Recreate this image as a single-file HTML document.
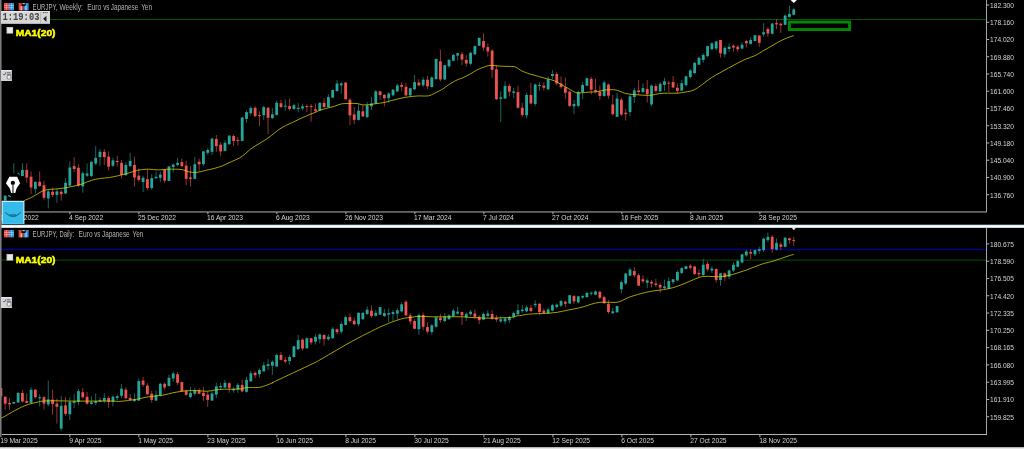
<!DOCTYPE html>
<html><head><meta charset="utf-8"><title>EURJPY</title>
<style>
html,body{margin:0;padding:0;background:#000;overflow:hidden}
svg{display:block;will-change:transform}
text{white-space:pre}
</style></head>
<body>
<svg width="1024" height="449" viewBox="0 0 1024 449">
<rect x="0" y="0" width="1024" height="449" fill="#000"/>
<rect x="50" y="19" width="936" height="1" fill="#005a00"/>
<rect x="789.35" y="22.05" width="60.2" height="7.5" fill="none" stroke="#018801" stroke-width="2.9"/>
<rect x="3.80" y="195.61" width="2.8" height="4.99" fill="#26a69a"/>
<line x1="13.82" y1="163.25" x2="13.82" y2="173.51" stroke="#26a69a" stroke-width="0.62"/>
<line x1="22.44" y1="163.25" x2="22.44" y2="176.08" stroke="#26a69a" stroke-width="0.62"/>
<rect x="21.04" y="169.95" width="2.8" height="6.13" fill="#26a69a"/>
<line x1="26.75" y1="163.25" x2="26.75" y2="182.78" stroke="#ef5350" stroke-width="0.62"/>
<rect x="25.35" y="169.95" width="2.8" height="7.56" fill="#ef5350"/>
<line x1="31.06" y1="171.38" x2="31.06" y2="194.19" stroke="#ef5350" stroke-width="0.62"/>
<rect x="29.66" y="176.65" width="2.8" height="10.84" fill="#ef5350"/>
<line x1="35.37" y1="181.78" x2="35.37" y2="193.47" stroke="#26a69a" stroke-width="0.62"/>
<rect x="33.97" y="181.78" width="2.8" height="7.13" fill="#26a69a"/>
<line x1="39.67" y1="171.38" x2="39.67" y2="186.63" stroke="#ef5350" stroke-width="0.62"/>
<rect x="38.27" y="181.78" width="2.8" height="4.28" fill="#ef5350"/>
<line x1="43.98" y1="180.64" x2="43.98" y2="199.89" stroke="#ef5350" stroke-width="0.62"/>
<rect x="42.58" y="185.21" width="2.8" height="12.55" fill="#ef5350"/>
<line x1="48.29" y1="189.20" x2="48.29" y2="208.44" stroke="#26a69a" stroke-width="0.62"/>
<rect x="46.89" y="191.34" width="2.8" height="7.13" fill="#26a69a"/>
<line x1="52.60" y1="187.49" x2="52.60" y2="197.04" stroke="#ef5350" stroke-width="0.62"/>
<rect x="51.20" y="191.76" width="2.8" height="3.14" fill="#ef5350"/>
<line x1="56.91" y1="189.20" x2="56.91" y2="202.74" stroke="#26a69a" stroke-width="0.62"/>
<rect x="55.51" y="191.34" width="2.8" height="3.56" fill="#26a69a"/>
<line x1="61.22" y1="189.91" x2="61.22" y2="200.60" stroke="#ef5350" stroke-width="0.62"/>
<rect x="59.82" y="191.76" width="2.8" height="2.42" fill="#ef5350"/>
<line x1="65.53" y1="178.08" x2="65.53" y2="194.19" stroke="#26a69a" stroke-width="0.62"/>
<rect x="64.13" y="182.78" width="2.8" height="10.69" fill="#26a69a"/>
<line x1="69.84" y1="161.40" x2="69.84" y2="186.35" stroke="#26a69a" stroke-width="0.62"/>
<rect x="68.44" y="167.53" width="2.8" height="18.11" fill="#26a69a"/>
<line x1="74.15" y1="157.12" x2="74.15" y2="172.09" stroke="#ef5350" stroke-width="0.62"/>
<rect x="72.75" y="166.10" width="2.8" height="2.85" fill="#ef5350"/>
<line x1="78.46" y1="164.25" x2="78.46" y2="187.06" stroke="#ef5350" stroke-width="0.62"/>
<rect x="77.06" y="167.81" width="2.8" height="17.82" fill="#ef5350"/>
<line x1="82.76" y1="171.38" x2="82.76" y2="192.76" stroke="#26a69a" stroke-width="0.62"/>
<rect x="81.36" y="173.23" width="2.8" height="13.12" fill="#26a69a"/>
<line x1="87.07" y1="163.53" x2="87.07" y2="177.08" stroke="#26a69a" stroke-width="0.62"/>
<rect x="85.67" y="173.51" width="2.8" height="2.14" fill="#26a69a"/>
<line x1="91.38" y1="161.40" x2="91.38" y2="177.08" stroke="#26a69a" stroke-width="0.62"/>
<rect x="89.98" y="161.82" width="2.8" height="14.26" fill="#26a69a"/>
<line x1="95.69" y1="146.14" x2="95.69" y2="164.96" stroke="#26a69a" stroke-width="0.62"/>
<rect x="94.29" y="157.83" width="2.8" height="5.70" fill="#26a69a"/>
<line x1="100.00" y1="148.99" x2="100.00" y2="165.67" stroke="#26a69a" stroke-width="0.62"/>
<rect x="98.60" y="151.84" width="2.8" height="5.28" fill="#26a69a"/>
<line x1="104.31" y1="148.99" x2="104.31" y2="164.96" stroke="#ef5350" stroke-width="0.62"/>
<rect x="102.91" y="151.84" width="2.8" height="5.28" fill="#ef5350"/>
<line x1="108.62" y1="151.42" x2="108.62" y2="170.66" stroke="#ef5350" stroke-width="0.62"/>
<rect x="107.22" y="156.69" width="2.8" height="9.98" fill="#ef5350"/>
<line x1="112.93" y1="157.83" x2="112.93" y2="167.10" stroke="#26a69a" stroke-width="0.62"/>
<rect x="111.53" y="160.40" width="2.8" height="5.28" fill="#26a69a"/>
<line x1="117.24" y1="155.69" x2="117.24" y2="166.39" stroke="#ef5350" stroke-width="0.62"/>
<rect x="115.84" y="160.97" width="2.8" height="1.14" fill="#ef5350"/>
<line x1="121.55" y1="159.97" x2="121.55" y2="178.50" stroke="#ef5350" stroke-width="0.62"/>
<rect x="120.15" y="162.82" width="2.8" height="12.12" fill="#ef5350"/>
<line x1="125.86" y1="162.11" x2="125.86" y2="175.65" stroke="#26a69a" stroke-width="0.62"/>
<rect x="124.46" y="164.96" width="2.8" height="10.27" fill="#26a69a"/>
<line x1="130.16" y1="152.84" x2="130.16" y2="167.10" stroke="#26a69a" stroke-width="0.62"/>
<rect x="128.76" y="160.97" width="2.8" height="5.13" fill="#26a69a"/>
<line x1="134.47" y1="156.69" x2="134.47" y2="186.63" stroke="#ef5350" stroke-width="0.62"/>
<rect x="133.07" y="164.96" width="2.8" height="12.55" fill="#ef5350"/>
<line x1="138.78" y1="168.52" x2="138.78" y2="181.78" stroke="#ef5350" stroke-width="0.62"/>
<rect x="137.38" y="175.65" width="2.8" height="4.28" fill="#ef5350"/>
<line x1="143.09" y1="175.63" x2="143.09" y2="192.03" stroke="#26a69a" stroke-width="0.62"/>
<rect x="141.69" y="177.77" width="2.8" height="4.28" fill="#26a69a"/>
<line x1="147.40" y1="169.22" x2="147.40" y2="189.89" stroke="#ef5350" stroke-width="0.62"/>
<rect x="146.00" y="179.20" width="2.8" height="8.84" fill="#ef5350"/>
<line x1="151.71" y1="174.21" x2="151.71" y2="189.89" stroke="#26a69a" stroke-width="0.62"/>
<rect x="150.31" y="178.06" width="2.8" height="9.98" fill="#26a69a"/>
<line x1="156.02" y1="171.36" x2="156.02" y2="179.20" stroke="#26a69a" stroke-width="0.62"/>
<rect x="154.62" y="176.77" width="2.8" height="1.43" fill="#26a69a"/>
<line x1="160.33" y1="171.78" x2="160.33" y2="182.05" stroke="#26a69a" stroke-width="0.62"/>
<rect x="158.93" y="174.64" width="2.8" height="3.14" fill="#26a69a"/>
<line x1="164.64" y1="168.93" x2="164.64" y2="183.19" stroke="#ef5350" stroke-width="0.62"/>
<rect x="163.24" y="169.93" width="2.8" height="10.69" fill="#ef5350"/>
<line x1="168.94" y1="166.08" x2="168.94" y2="180.91" stroke="#26a69a" stroke-width="0.62"/>
<rect x="167.54" y="166.37" width="2.8" height="14.54" fill="#26a69a"/>
<line x1="173.25" y1="163.51" x2="173.25" y2="172.35" stroke="#26a69a" stroke-width="0.62"/>
<rect x="171.85" y="164.65" width="2.8" height="2.42" fill="#26a69a"/>
<line x1="177.56" y1="157.81" x2="177.56" y2="166.65" stroke="#26a69a" stroke-width="0.62"/>
<rect x="176.16" y="162.80" width="2.8" height="2.14" fill="#26a69a"/>
<line x1="181.87" y1="158.52" x2="181.87" y2="167.51" stroke="#ef5350" stroke-width="0.62"/>
<rect x="180.47" y="162.09" width="2.8" height="3.99" fill="#ef5350"/>
<line x1="186.18" y1="160.66" x2="186.18" y2="185.19" stroke="#ef5350" stroke-width="0.62"/>
<rect x="184.78" y="165.65" width="2.8" height="13.26" fill="#ef5350"/>
<line x1="190.49" y1="166.08" x2="190.49" y2="186.61" stroke="#ef5350" stroke-width="0.62"/>
<rect x="189.09" y="177.49" width="2.8" height="1.43" fill="#ef5350"/>
<line x1="194.80" y1="157.10" x2="194.80" y2="179.20" stroke="#26a69a" stroke-width="0.62"/>
<rect x="193.40" y="164.23" width="2.8" height="14.68" fill="#26a69a"/>
<line x1="199.11" y1="158.52" x2="199.11" y2="170.64" stroke="#ef5350" stroke-width="0.62"/>
<rect x="197.71" y="161.80" width="2.8" height="2.42" fill="#ef5350"/>
<line x1="203.42" y1="150.97" x2="203.42" y2="166.08" stroke="#26a69a" stroke-width="0.62"/>
<rect x="202.02" y="151.40" width="2.8" height="12.83" fill="#26a69a"/>
<line x1="207.73" y1="148.12" x2="207.73" y2="154.67" stroke="#26a69a" stroke-width="0.62"/>
<rect x="206.33" y="149.97" width="2.8" height="2.85" fill="#26a69a"/>
<line x1="212.03" y1="137.57" x2="212.03" y2="154.96" stroke="#26a69a" stroke-width="0.62"/>
<rect x="210.63" y="138.56" width="2.8" height="13.26" fill="#26a69a"/>
<line x1="216.34" y1="135.00" x2="216.34" y2="151.82" stroke="#ef5350" stroke-width="0.62"/>
<rect x="214.94" y="138.99" width="2.8" height="7.13" fill="#ef5350"/>
<line x1="220.65" y1="142.13" x2="220.65" y2="156.39" stroke="#ef5350" stroke-width="0.62"/>
<rect x="219.25" y="144.69" width="2.8" height="6.70" fill="#ef5350"/>
<line x1="224.96" y1="140.42" x2="224.96" y2="151.40" stroke="#26a69a" stroke-width="0.62"/>
<rect x="223.56" y="142.84" width="2.8" height="8.13" fill="#26a69a"/>
<line x1="229.27" y1="135.19" x2="229.27" y2="144.88" stroke="#26a69a" stroke-width="0.62"/>
<rect x="227.87" y="135.61" width="2.8" height="8.55" fill="#26a69a"/>
<line x1="233.58" y1="134.62" x2="233.58" y2="146.02" stroke="#ef5350" stroke-width="0.62"/>
<rect x="232.18" y="136.04" width="2.8" height="4.85" fill="#ef5350"/>
<line x1="237.89" y1="137.04" x2="237.89" y2="145.59" stroke="#ef5350" stroke-width="0.62"/>
<rect x="236.49" y="139.89" width="2.8" height="1.00" fill="#ef5350"/>
<line x1="242.20" y1="117.08" x2="242.20" y2="141.32" stroke="#26a69a" stroke-width="0.62"/>
<rect x="240.80" y="117.51" width="2.8" height="23.38" fill="#26a69a"/>
<line x1="246.51" y1="110.38" x2="246.51" y2="122.78" stroke="#26a69a" stroke-width="0.62"/>
<rect x="245.11" y="112.09" width="2.8" height="6.84" fill="#26a69a"/>
<line x1="250.82" y1="106.10" x2="250.82" y2="115.65" stroke="#26a69a" stroke-width="0.62"/>
<rect x="249.42" y="108.10" width="2.8" height="5.13" fill="#26a69a"/>
<line x1="255.12" y1="106.10" x2="255.12" y2="117.51" stroke="#ef5350" stroke-width="0.62"/>
<rect x="253.72" y="107.81" width="2.8" height="8.27" fill="#ef5350"/>
<line x1="259.43" y1="111.38" x2="259.43" y2="126.35" stroke="#ef5350" stroke-width="0.62"/>
<rect x="258.03" y="114.94" width="2.8" height="0.90" fill="#ef5350"/>
<line x1="263.74" y1="105.67" x2="263.74" y2="119.93" stroke="#26a69a" stroke-width="0.62"/>
<rect x="262.34" y="107.10" width="2.8" height="8.13" fill="#26a69a"/>
<line x1="268.05" y1="106.67" x2="268.05" y2="134.19" stroke="#ef5350" stroke-width="0.62"/>
<rect x="266.65" y="107.81" width="2.8" height="9.98" fill="#ef5350"/>
<line x1="272.36" y1="108.10" x2="272.36" y2="118.93" stroke="#26a69a" stroke-width="0.62"/>
<rect x="270.96" y="114.23" width="2.8" height="3.85" fill="#26a69a"/>
<line x1="276.67" y1="100.68" x2="276.67" y2="115.65" stroke="#26a69a" stroke-width="0.62"/>
<rect x="275.27" y="102.82" width="2.8" height="12.12" fill="#26a69a"/>
<line x1="280.98" y1="99.97" x2="280.98" y2="107.81" stroke="#ef5350" stroke-width="0.62"/>
<rect x="279.58" y="103.25" width="2.8" height="3.85" fill="#ef5350"/>
<line x1="285.29" y1="99.54" x2="285.29" y2="110.95" stroke="#26a69a" stroke-width="0.62"/>
<rect x="283.89" y="105.67" width="2.8" height="1.00" fill="#26a69a"/>
<line x1="289.60" y1="98.54" x2="289.60" y2="110.66" stroke="#ef5350" stroke-width="0.62"/>
<rect x="288.20" y="106.10" width="2.8" height="2.85" fill="#ef5350"/>
<line x1="293.91" y1="103.82" x2="293.91" y2="109.95" stroke="#26a69a" stroke-width="0.62"/>
<rect x="292.51" y="105.25" width="2.8" height="3.71" fill="#26a69a"/>
<line x1="298.21" y1="103.25" x2="298.21" y2="112.37" stroke="#26a69a" stroke-width="0.62"/>
<rect x="296.81" y="107.81" width="2.8" height="1.14" fill="#26a69a"/>
<line x1="302.52" y1="103.82" x2="302.52" y2="110.38" stroke="#26a69a" stroke-width="0.62"/>
<rect x="301.12" y="106.39" width="2.8" height="2.14" fill="#26a69a"/>
<line x1="306.83" y1="104.25" x2="306.83" y2="112.09" stroke="#ef5350" stroke-width="0.62"/>
<rect x="305.43" y="106.10" width="2.8" height="1.00" fill="#ef5350"/>
<line x1="311.14" y1="103.82" x2="311.14" y2="121.78" stroke="#ef5350" stroke-width="0.62"/>
<rect x="309.74" y="106.10" width="2.8" height="1.00" fill="#ef5350"/>
<line x1="315.45" y1="103.25" x2="315.45" y2="112.80" stroke="#ef5350" stroke-width="0.62"/>
<rect x="314.05" y="109.24" width="2.8" height="1.71" fill="#ef5350"/>
<line x1="319.76" y1="102.39" x2="319.76" y2="110.95" stroke="#26a69a" stroke-width="0.62"/>
<rect x="318.36" y="102.82" width="2.8" height="7.84" fill="#26a69a"/>
<line x1="324.07" y1="98.12" x2="324.07" y2="107.53" stroke="#ef5350" stroke-width="0.62"/>
<rect x="322.67" y="102.82" width="2.8" height="4.28" fill="#ef5350"/>
<line x1="328.38" y1="94.27" x2="328.38" y2="107.53" stroke="#26a69a" stroke-width="0.62"/>
<rect x="326.98" y="97.12" width="2.8" height="9.98" fill="#26a69a"/>
<line x1="332.69" y1="89.28" x2="332.69" y2="98.12" stroke="#26a69a" stroke-width="0.62"/>
<rect x="331.29" y="89.99" width="2.8" height="7.56" fill="#26a69a"/>
<line x1="337.00" y1="79.96" x2="337.00" y2="91.65" stroke="#26a69a" stroke-width="0.62"/>
<rect x="335.60" y="83.52" width="2.8" height="7.56" fill="#26a69a"/>
<line x1="341.31" y1="82.10" x2="341.31" y2="93.50" stroke="#26a69a" stroke-width="0.62"/>
<rect x="339.91" y="83.52" width="2.8" height="1.85" fill="#26a69a"/>
<line x1="345.61" y1="82.10" x2="345.61" y2="99.92" stroke="#ef5350" stroke-width="0.62"/>
<rect x="344.21" y="82.53" width="2.8" height="16.68" fill="#ef5350"/>
<line x1="349.92" y1="98.21" x2="349.92" y2="124.87" stroke="#ef5350" stroke-width="0.62"/>
<rect x="348.52" y="99.64" width="2.8" height="15.68" fill="#ef5350"/>
<line x1="354.23" y1="107.05" x2="354.23" y2="124.16" stroke="#ef5350" stroke-width="0.62"/>
<rect x="352.83" y="114.46" width="2.8" height="5.42" fill="#ef5350"/>
<line x1="358.54" y1="104.20" x2="358.54" y2="120.59" stroke="#26a69a" stroke-width="0.62"/>
<rect x="357.14" y="110.61" width="2.8" height="9.27" fill="#26a69a"/>
<line x1="362.85" y1="105.34" x2="362.85" y2="117.03" stroke="#ef5350" stroke-width="0.62"/>
<rect x="361.45" y="111.33" width="2.8" height="4.99" fill="#ef5350"/>
<line x1="367.16" y1="102.06" x2="367.16" y2="118.45" stroke="#26a69a" stroke-width="0.62"/>
<rect x="365.76" y="105.34" width="2.8" height="11.69" fill="#26a69a"/>
<line x1="371.47" y1="96.78" x2="371.47" y2="109.90" stroke="#26a69a" stroke-width="0.62"/>
<rect x="370.07" y="103.48" width="2.8" height="2.85" fill="#26a69a"/>
<line x1="375.78" y1="89.94" x2="375.78" y2="104.20" stroke="#26a69a" stroke-width="0.62"/>
<rect x="374.38" y="91.37" width="2.8" height="12.12" fill="#26a69a"/>
<line x1="380.09" y1="90.65" x2="380.09" y2="99.92" stroke="#ef5350" stroke-width="0.62"/>
<rect x="378.69" y="91.37" width="2.8" height="3.56" fill="#ef5350"/>
<line x1="384.39" y1="94.22" x2="384.39" y2="106.34" stroke="#ef5350" stroke-width="0.62"/>
<rect x="383.00" y="94.93" width="2.8" height="3.28" fill="#ef5350"/>
<line x1="388.70" y1="92.08" x2="388.70" y2="102.77" stroke="#26a69a" stroke-width="0.62"/>
<rect x="387.30" y="93.50" width="2.8" height="4.70" fill="#26a69a"/>
<line x1="393.01" y1="89.23" x2="393.01" y2="96.36" stroke="#26a69a" stroke-width="0.62"/>
<rect x="391.61" y="89.65" width="2.8" height="5.70" fill="#26a69a"/>
<line x1="397.32" y1="83.52" x2="397.32" y2="92.08" stroke="#26a69a" stroke-width="0.62"/>
<rect x="395.92" y="85.38" width="2.8" height="5.99" fill="#26a69a"/>
<line x1="401.63" y1="82.10" x2="401.63" y2="91.37" stroke="#ef5350" stroke-width="0.62"/>
<rect x="400.23" y="84.95" width="2.8" height="1.85" fill="#ef5350"/>
<line x1="405.94" y1="82.81" x2="405.94" y2="96.36" stroke="#ef5350" stroke-width="0.62"/>
<rect x="404.54" y="86.80" width="2.8" height="8.55" fill="#ef5350"/>
<line x1="410.25" y1="87.80" x2="410.25" y2="96.78" stroke="#26a69a" stroke-width="0.62"/>
<rect x="408.85" y="88.23" width="2.8" height="7.13" fill="#26a69a"/>
<line x1="414.56" y1="74.97" x2="414.56" y2="90.23" stroke="#26a69a" stroke-width="0.62"/>
<rect x="413.16" y="82.10" width="2.8" height="7.13" fill="#26a69a"/>
<line x1="418.87" y1="79.25" x2="418.87" y2="86.38" stroke="#ef5350" stroke-width="0.62"/>
<rect x="417.47" y="82.53" width="2.8" height="2.85" fill="#ef5350"/>
<line x1="423.18" y1="77.11" x2="423.18" y2="87.09" stroke="#26a69a" stroke-width="0.62"/>
<rect x="421.78" y="79.67" width="2.8" height="5.70" fill="#26a69a"/>
<line x1="427.49" y1="75.97" x2="427.49" y2="89.23" stroke="#ef5350" stroke-width="0.62"/>
<rect x="426.09" y="79.67" width="2.8" height="6.70" fill="#ef5350"/>
<line x1="431.79" y1="76.40" x2="431.79" y2="87.37" stroke="#26a69a" stroke-width="0.62"/>
<rect x="430.39" y="77.39" width="2.8" height="9.69" fill="#26a69a"/>
<line x1="436.10" y1="58.50" x2="436.10" y2="79.46" stroke="#26a69a" stroke-width="0.62"/>
<rect x="434.70" y="58.93" width="2.8" height="20.25" fill="#26a69a"/>
<line x1="440.41" y1="49.52" x2="440.41" y2="81.32" stroke="#ef5350" stroke-width="0.62"/>
<rect x="439.01" y="61.36" width="2.8" height="18.11" fill="#ef5350"/>
<line x1="444.72" y1="64.92" x2="444.72" y2="79.89" stroke="#26a69a" stroke-width="0.62"/>
<rect x="443.32" y="65.21" width="2.8" height="14.26" fill="#26a69a"/>
<line x1="449.03" y1="58.93" x2="449.03" y2="67.77" stroke="#26a69a" stroke-width="0.62"/>
<rect x="447.63" y="59.93" width="2.8" height="6.42" fill="#26a69a"/>
<line x1="453.34" y1="53.80" x2="453.34" y2="61.36" stroke="#26a69a" stroke-width="0.62"/>
<rect x="451.94" y="54.94" width="2.8" height="5.70" fill="#26a69a"/>
<line x1="457.65" y1="52.80" x2="457.65" y2="60.64" stroke="#26a69a" stroke-width="0.62"/>
<rect x="456.25" y="53.23" width="2.8" height="2.42" fill="#26a69a"/>
<line x1="461.96" y1="52.09" x2="461.96" y2="64.92" stroke="#ef5350" stroke-width="0.62"/>
<rect x="460.56" y="54.23" width="2.8" height="5.28" fill="#ef5350"/>
<line x1="466.27" y1="55.23" x2="466.27" y2="66.63" stroke="#ef5350" stroke-width="0.62"/>
<rect x="464.87" y="59.93" width="2.8" height="3.56" fill="#ef5350"/>
<line x1="470.57" y1="51.80" x2="470.57" y2="65.21" stroke="#26a69a" stroke-width="0.62"/>
<rect x="469.18" y="52.80" width="2.8" height="10.98" fill="#26a69a"/>
<line x1="474.88" y1="45.67" x2="474.88" y2="55.23" stroke="#26a69a" stroke-width="0.62"/>
<rect x="473.48" y="46.10" width="2.8" height="8.13" fill="#26a69a"/>
<line x1="479.19" y1="37.55" x2="479.19" y2="46.10" stroke="#26a69a" stroke-width="0.62"/>
<rect x="477.79" y="37.83" width="2.8" height="7.84" fill="#26a69a"/>
<line x1="483.50" y1="33.27" x2="483.50" y2="50.95" stroke="#ef5350" stroke-width="0.62"/>
<rect x="482.10" y="40.97" width="2.8" height="6.56" fill="#ef5350"/>
<line x1="487.81" y1="43.53" x2="487.81" y2="56.65" stroke="#ef5350" stroke-width="0.62"/>
<rect x="486.41" y="47.10" width="2.8" height="4.28" fill="#ef5350"/>
<line x1="492.12" y1="48.95" x2="492.12" y2="78.04" stroke="#ef5350" stroke-width="0.62"/>
<rect x="490.72" y="50.66" width="2.8" height="19.25" fill="#ef5350"/>
<line x1="496.43" y1="65.42" x2="496.43" y2="99.92" stroke="#ef5350" stroke-width="0.62"/>
<rect x="495.03" y="69.27" width="2.8" height="29.94" fill="#ef5350"/>
<line x1="500.74" y1="91.37" x2="500.74" y2="122.02" stroke="#26a69a" stroke-width="0.62"/>
<rect x="499.34" y="97.35" width="2.8" height="1.43" fill="#26a69a"/>
<line x1="505.05" y1="81.39" x2="505.05" y2="99.21" stroke="#26a69a" stroke-width="0.62"/>
<rect x="503.65" y="85.95" width="2.8" height="12.55" fill="#26a69a"/>
<line x1="509.36" y1="83.95" x2="509.36" y2="96.36" stroke="#ef5350" stroke-width="0.62"/>
<rect x="507.96" y="85.95" width="2.8" height="5.70" fill="#ef5350"/>
<line x1="513.66" y1="87.80" x2="513.66" y2="98.21" stroke="#26a69a" stroke-width="0.62"/>
<rect x="512.26" y="91.37" width="2.8" height="1.43" fill="#26a69a"/>
<line x1="517.97" y1="85.66" x2="517.97" y2="108.47" stroke="#ef5350" stroke-width="0.62"/>
<rect x="516.57" y="92.08" width="2.8" height="15.68" fill="#ef5350"/>
<line x1="522.28" y1="102.77" x2="522.28" y2="117.03" stroke="#ef5350" stroke-width="0.62"/>
<rect x="520.88" y="107.76" width="2.8" height="7.13" fill="#ef5350"/>
<line x1="526.59" y1="92.79" x2="526.59" y2="118.45" stroke="#26a69a" stroke-width="0.62"/>
<rect x="525.19" y="94.93" width="2.8" height="20.39" fill="#26a69a"/>
<line x1="530.90" y1="82.81" x2="530.90" y2="104.20" stroke="#ef5350" stroke-width="0.62"/>
<rect x="529.50" y="94.93" width="2.8" height="8.55" fill="#ef5350"/>
<line x1="535.21" y1="83.52" x2="535.21" y2="105.91" stroke="#26a69a" stroke-width="0.62"/>
<rect x="533.81" y="84.52" width="2.8" height="19.39" fill="#26a69a"/>
<line x1="539.52" y1="82.10" x2="539.52" y2="90.65" stroke="#26a69a" stroke-width="0.62"/>
<rect x="538.12" y="84.95" width="2.8" height="1.00" fill="#26a69a"/>
<line x1="543.83" y1="82.10" x2="543.83" y2="90.65" stroke="#ef5350" stroke-width="0.62"/>
<rect x="542.43" y="85.66" width="2.8" height="2.14" fill="#ef5350"/>
<line x1="548.14" y1="76.40" x2="548.14" y2="90.23" stroke="#26a69a" stroke-width="0.62"/>
<rect x="546.74" y="79.25" width="2.8" height="9.98" fill="#26a69a"/>
<line x1="552.45" y1="69.98" x2="552.45" y2="79.25" stroke="#26a69a" stroke-width="0.62"/>
<rect x="551.05" y="73.97" width="2.8" height="2.00" fill="#26a69a"/>
<line x1="556.75" y1="72.12" x2="556.75" y2="85.38" stroke="#ef5350" stroke-width="0.62"/>
<rect x="555.36" y="73.97" width="2.8" height="9.55" fill="#ef5350"/>
<line x1="561.06" y1="76.40" x2="561.06" y2="88.51" stroke="#ef5350" stroke-width="0.62"/>
<rect x="559.66" y="83.52" width="2.8" height="3.56" fill="#ef5350"/>
<line x1="565.37" y1="77.39" x2="565.37" y2="98.78" stroke="#ef5350" stroke-width="0.62"/>
<rect x="563.97" y="87.37" width="2.8" height="5.42" fill="#ef5350"/>
<line x1="569.68" y1="90.65" x2="569.68" y2="107.05" stroke="#ef5350" stroke-width="0.62"/>
<rect x="568.28" y="91.65" width="2.8" height="14.26" fill="#ef5350"/>
<line x1="573.99" y1="99.92" x2="573.99" y2="114.18" stroke="#26a69a" stroke-width="0.62"/>
<rect x="572.59" y="103.91" width="2.8" height="2.42" fill="#26a69a"/>
<line x1="578.30" y1="90.65" x2="578.30" y2="107.33" stroke="#26a69a" stroke-width="0.62"/>
<rect x="576.90" y="92.08" width="2.8" height="13.83" fill="#26a69a"/>
<line x1="582.61" y1="82.10" x2="582.61" y2="99.21" stroke="#26a69a" stroke-width="0.62"/>
<rect x="581.21" y="84.95" width="2.8" height="7.13" fill="#26a69a"/>
<line x1="586.92" y1="77.39" x2="586.92" y2="85.95" stroke="#26a69a" stroke-width="0.62"/>
<rect x="585.52" y="78.25" width="2.8" height="7.41" fill="#26a69a"/>
<line x1="591.23" y1="76.82" x2="591.23" y2="94.50" stroke="#ef5350" stroke-width="0.62"/>
<rect x="589.83" y="78.82" width="2.8" height="10.84" fill="#ef5350"/>
<line x1="595.54" y1="78.53" x2="595.54" y2="93.50" stroke="#ef5350" stroke-width="0.62"/>
<rect x="594.14" y="89.94" width="2.8" height="1.71" fill="#ef5350"/>
<line x1="599.85" y1="85.66" x2="599.85" y2="99.92" stroke="#ef5350" stroke-width="0.62"/>
<rect x="598.45" y="91.65" width="2.8" height="4.28" fill="#ef5350"/>
<line x1="604.15" y1="80.67" x2="604.15" y2="96.78" stroke="#26a69a" stroke-width="0.62"/>
<rect x="602.75" y="82.53" width="2.8" height="13.40" fill="#26a69a"/>
<line x1="608.46" y1="83.52" x2="608.46" y2="98.78" stroke="#ef5350" stroke-width="0.62"/>
<rect x="607.06" y="84.52" width="2.8" height="11.12" fill="#ef5350"/>
<line x1="612.77" y1="94.93" x2="612.77" y2="115.60" stroke="#ef5350" stroke-width="0.62"/>
<rect x="611.37" y="104.48" width="2.8" height="9.69" fill="#ef5350"/>
<line x1="617.08" y1="93.08" x2="617.08" y2="117.03" stroke="#26a69a" stroke-width="0.62"/>
<rect x="615.68" y="98.49" width="2.8" height="18.25" fill="#26a69a"/>
<line x1="621.39" y1="98.21" x2="621.39" y2="115.89" stroke="#ef5350" stroke-width="0.62"/>
<rect x="619.99" y="99.64" width="2.8" height="14.83" fill="#ef5350"/>
<line x1="625.70" y1="108.76" x2="625.70" y2="120.59" stroke="#ef5350" stroke-width="0.62"/>
<rect x="624.30" y="112.75" width="2.8" height="1.43" fill="#ef5350"/>
<line x1="630.01" y1="94.22" x2="630.01" y2="116.32" stroke="#26a69a" stroke-width="0.62"/>
<rect x="628.61" y="96.36" width="2.8" height="15.68" fill="#26a69a"/>
<line x1="634.32" y1="87.75" x2="634.32" y2="103.15" stroke="#26a69a" stroke-width="0.62"/>
<rect x="632.92" y="90.32" width="2.8" height="6.70" fill="#26a69a"/>
<line x1="638.63" y1="79.91" x2="638.63" y2="94.88" stroke="#ef5350" stroke-width="0.62"/>
<rect x="637.23" y="90.32" width="2.8" height="1.71" fill="#ef5350"/>
<line x1="642.93" y1="83.47" x2="642.93" y2="93.17" stroke="#26a69a" stroke-width="0.62"/>
<rect x="641.53" y="88.04" width="2.8" height="3.99" fill="#26a69a"/>
<line x1="647.24" y1="79.91" x2="647.24" y2="102.44" stroke="#ef5350" stroke-width="0.62"/>
<rect x="645.84" y="88.89" width="2.8" height="5.28" fill="#ef5350"/>
<line x1="651.55" y1="84.62" x2="651.55" y2="106.29" stroke="#26a69a" stroke-width="0.62"/>
<rect x="650.15" y="85.61" width="2.8" height="18.82" fill="#26a69a"/>
<line x1="655.86" y1="83.47" x2="655.86" y2="92.74" stroke="#ef5350" stroke-width="0.62"/>
<rect x="654.46" y="86.04" width="2.8" height="4.85" fill="#ef5350"/>
<line x1="660.17" y1="82.05" x2="660.17" y2="92.31" stroke="#26a69a" stroke-width="0.62"/>
<rect x="658.77" y="83.76" width="2.8" height="7.56" fill="#26a69a"/>
<line x1="664.48" y1="77.77" x2="664.48" y2="90.89" stroke="#26a69a" stroke-width="0.62"/>
<rect x="663.08" y="81.34" width="2.8" height="3.56" fill="#26a69a"/>
<line x1="668.79" y1="80.91" x2="668.79" y2="92.03" stroke="#ef5350" stroke-width="0.62"/>
<rect x="667.39" y="82.76" width="2.8" height="0.90" fill="#ef5350"/>
<line x1="673.10" y1="76.06" x2="673.10" y2="88.04" stroke="#ef5350" stroke-width="0.62"/>
<rect x="671.70" y="82.05" width="2.8" height="5.42" fill="#ef5350"/>
<line x1="677.41" y1="83.47" x2="677.41" y2="93.45" stroke="#ef5350" stroke-width="0.62"/>
<rect x="676.01" y="87.75" width="2.8" height="3.14" fill="#ef5350"/>
<line x1="681.72" y1="79.91" x2="681.72" y2="90.89" stroke="#26a69a" stroke-width="0.62"/>
<rect x="680.32" y="83.19" width="2.8" height="7.41" fill="#26a69a"/>
<line x1="686.02" y1="75.63" x2="686.02" y2="86.33" stroke="#26a69a" stroke-width="0.62"/>
<rect x="684.62" y="76.35" width="2.8" height="8.84" fill="#26a69a"/>
<line x1="690.33" y1="69.22" x2="690.33" y2="78.48" stroke="#26a69a" stroke-width="0.62"/>
<rect x="688.93" y="70.36" width="2.8" height="6.70" fill="#26a69a"/>
<line x1="694.64" y1="62.37" x2="694.64" y2="73.78" stroke="#26a69a" stroke-width="0.62"/>
<rect x="693.24" y="62.80" width="2.8" height="10.41" fill="#26a69a"/>
<line x1="698.95" y1="56.39" x2="698.95" y2="65.23" stroke="#26a69a" stroke-width="0.62"/>
<rect x="697.55" y="57.81" width="2.8" height="6.84" fill="#26a69a"/>
<line x1="703.26" y1="53.25" x2="703.26" y2="62.80" stroke="#26a69a" stroke-width="0.62"/>
<rect x="701.86" y="54.96" width="2.8" height="4.99" fill="#26a69a"/>
<line x1="707.57" y1="45.69" x2="707.57" y2="57.10" stroke="#26a69a" stroke-width="0.62"/>
<rect x="706.17" y="46.12" width="2.8" height="9.98" fill="#26a69a"/>
<line x1="711.88" y1="42.41" x2="711.88" y2="49.97" stroke="#26a69a" stroke-width="0.62"/>
<rect x="710.48" y="43.27" width="2.8" height="5.99" fill="#26a69a"/>
<line x1="716.19" y1="40.70" x2="716.19" y2="50.68" stroke="#26a69a" stroke-width="0.62"/>
<rect x="714.79" y="41.42" width="2.8" height="7.13" fill="#26a69a"/>
<line x1="720.50" y1="39.99" x2="720.50" y2="57.81" stroke="#ef5350" stroke-width="0.62"/>
<rect x="719.10" y="39.99" width="2.8" height="13.26" fill="#ef5350"/>
<line x1="724.81" y1="46.12" x2="724.81" y2="57.10" stroke="#26a69a" stroke-width="0.62"/>
<rect x="723.41" y="47.83" width="2.8" height="6.42" fill="#26a69a"/>
<line x1="729.12" y1="43.55" x2="729.12" y2="51.82" stroke="#26a69a" stroke-width="0.62"/>
<rect x="727.72" y="46.69" width="2.8" height="2.28" fill="#26a69a"/>
<line x1="733.42" y1="44.27" x2="733.42" y2="51.82" stroke="#ef5350" stroke-width="0.62"/>
<rect x="732.02" y="45.69" width="2.8" height="1.85" fill="#ef5350"/>
<line x1="737.73" y1="44.98" x2="737.73" y2="51.82" stroke="#ef5350" stroke-width="0.62"/>
<rect x="736.33" y="46.69" width="2.8" height="2.57" fill="#ef5350"/>
<line x1="742.04" y1="42.13" x2="742.04" y2="49.26" stroke="#26a69a" stroke-width="0.62"/>
<rect x="740.64" y="44.69" width="2.8" height="3.85" fill="#26a69a"/>
<line x1="746.35" y1="39.99" x2="746.35" y2="47.55" stroke="#ef5350" stroke-width="0.62"/>
<rect x="744.95" y="40.99" width="2.8" height="2.28" fill="#ef5350"/>
<line x1="750.66" y1="37.14" x2="750.66" y2="44.69" stroke="#26a69a" stroke-width="0.62"/>
<rect x="749.26" y="39.99" width="2.8" height="3.85" fill="#26a69a"/>
<line x1="754.97" y1="35.00" x2="754.97" y2="41.50" stroke="#26a69a" stroke-width="0.62"/>
<rect x="753.57" y="35.25" width="2.8" height="5.75" fill="#26a69a"/>
<line x1="759.28" y1="35.00" x2="759.28" y2="46.88" stroke="#ef5350" stroke-width="0.62"/>
<rect x="757.88" y="35.62" width="2.8" height="7.12" fill="#ef5350"/>
<line x1="763.59" y1="23.12" x2="763.59" y2="36.88" stroke="#26a69a" stroke-width="0.62"/>
<rect x="762.19" y="32.25" width="2.8" height="2.12" fill="#26a69a"/>
<line x1="767.90" y1="26.88" x2="767.90" y2="36.88" stroke="#ef5350" stroke-width="0.62"/>
<rect x="766.50" y="29.00" width="2.8" height="4.50" fill="#ef5350"/>
<line x1="772.21" y1="23.12" x2="772.21" y2="34.38" stroke="#26a69a" stroke-width="0.62"/>
<rect x="770.81" y="23.50" width="2.8" height="10.25" fill="#26a69a"/>
<line x1="776.51" y1="19.00" x2="776.51" y2="29.00" stroke="#ef5350" stroke-width="0.62"/>
<rect x="775.11" y="23.12" width="2.8" height="1.25" fill="#ef5350"/>
<line x1="780.82" y1="22.50" x2="780.82" y2="32.75" stroke="#ef5350" stroke-width="0.62"/>
<rect x="779.42" y="23.75" width="2.8" height="1.50" fill="#ef5350"/>
<line x1="785.13" y1="14.38" x2="785.13" y2="25.25" stroke="#26a69a" stroke-width="0.62"/>
<rect x="783.73" y="15.62" width="2.8" height="9.12" fill="#26a69a"/>
<line x1="789.44" y1="5.62" x2="789.44" y2="17.50" stroke="#26a69a" stroke-width="0.62"/>
<rect x="788.04" y="14.00" width="2.8" height="2.88" fill="#26a69a"/>
<line x1="793.75" y1="7.75" x2="793.75" y2="15.00" stroke="#26a69a" stroke-width="0.62"/>
<rect x="792.35" y="9.38" width="2.8" height="5.38" fill="#26a69a"/>
<path d="M24.2,200.6 C25.3,200.1 28.5,198.8 30.7,197.8 C32.8,196.7 35.0,195.3 37.1,194.2 C39.1,193.0 40.9,191.7 42.8,190.9 C44.7,190.1 46.1,189.8 48.5,189.5 C50.9,189.1 54.2,189.2 57.0,188.9 C59.9,188.6 62.7,188.2 65.6,187.8 C68.4,187.3 71.3,186.7 74.1,186.1 C77.0,185.4 79.8,184.7 82.7,183.8 C85.5,182.8 88.4,181.2 91.2,180.4 C94.1,179.5 96.7,179.0 99.8,178.5 C102.9,178.0 106.7,178.0 109.8,177.5 C112.9,177.0 115.5,176.3 118.3,175.7 C121.2,175.0 124.0,174.3 126.9,173.5 C129.7,172.7 133.3,171.5 135.4,170.9 C137.6,170.4 137.8,170.2 140.0,169.9 C142.2,169.6 145.5,169.2 148.6,169.2 C151.6,169.2 155.2,169.9 158.5,169.9 C161.9,169.9 164.7,169.3 168.5,169.2 C172.3,169.1 178.0,169.1 181.3,169.5 C184.7,169.9 185.9,171.3 188.5,171.8 C191.1,172.3 194.2,172.6 197.0,172.4 C199.9,172.1 202.7,171.0 205.6,170.4 C208.4,169.7 211.3,169.3 214.1,168.5 C217.0,167.7 219.8,166.8 222.7,165.7 C225.5,164.5 228.4,163.1 231.2,161.8 C234.1,160.5 237.4,159.2 239.8,157.8 C242.2,156.4 243.7,155.0 245.5,153.5 C247.3,152.1 248.7,150.5 250.6,149.0 C252.5,147.6 254.8,146.3 257.0,144.9 C259.3,143.5 261.8,142.1 264.2,140.6 C266.5,139.1 268.9,137.4 271.3,135.6 C273.7,133.8 276.0,131.6 278.4,129.9 C280.8,128.2 283.2,126.9 285.5,125.6 C287.9,124.4 290.3,123.5 292.7,122.4 C295.0,121.2 297.4,120.0 299.8,118.9 C302.2,117.8 304.6,116.7 306.9,115.7 C309.3,114.6 311.9,113.7 314.1,112.8 C316.2,111.9 317.8,111.0 320.0,110.2 C322.2,109.4 324.8,108.8 327.1,108.2 C329.5,107.5 331.9,107.0 334.3,106.3 C336.6,105.6 339.0,104.4 341.4,103.9 C343.8,103.4 345.9,103.6 348.5,103.5 C351.1,103.4 354.7,103.2 357.1,103.5 C359.4,103.7 360.6,104.7 362.8,104.9 C364.9,105.1 367.5,104.7 369.9,104.5 C372.3,104.2 374.7,103.8 377.0,103.5 C379.4,103.2 381.8,103.0 384.2,102.5 C386.5,102.0 388.9,101.3 391.3,100.6 C393.7,100.0 396.0,99.3 398.4,98.8 C400.8,98.2 403.2,97.8 405.5,97.4 C407.9,96.9 410.3,96.6 412.7,96.4 C415.0,96.1 417.2,96.0 419.8,95.9 C422.4,95.9 426.0,96.3 428.4,95.9 C430.7,95.5 431.9,94.5 434.1,93.5 C436.2,92.5 439.7,90.7 441.2,89.9 C442.6,89.2 441.6,89.9 442.8,89.0 C444.0,88.2 446.4,86.3 448.5,84.9 C450.7,83.5 453.3,81.8 455.6,80.6 C458.0,79.4 460.4,78.8 462.8,77.8 C465.1,76.7 467.5,75.5 469.9,74.2 C472.3,72.9 474.7,71.1 477.0,69.9 C479.4,68.7 482.0,67.8 484.2,67.1 C486.3,66.3 487.6,65.6 490.0,65.4 C492.4,65.2 495.7,65.8 498.6,66.0 C501.4,66.2 504.4,66.3 507.1,66.4 C509.8,66.6 512.5,66.1 515.0,66.8 C517.4,67.6 519.6,69.9 522.1,71.1 C524.6,72.3 527.2,73.1 529.9,74.0 C532.7,74.9 535.6,75.6 538.5,76.4 C541.3,77.2 544.4,78.1 547.0,78.8 C549.6,79.5 551.8,79.7 554.2,80.7 C556.5,81.6 558.9,83.2 561.3,84.5 C563.7,85.8 566.0,87.2 568.4,88.5 C570.8,89.8 573.4,91.8 575.5,92.5 C577.7,93.2 578.9,92.9 581.2,92.8 C583.6,92.7 587.2,92.3 589.8,92.1 C592.4,91.9 594.6,92.0 596.9,91.7 C599.3,91.3 601.9,90.6 604.1,90.2 C606.2,89.9 607.9,89.7 609.8,89.7 C611.7,89.6 613.8,89.7 615.5,89.9 C617.2,90.2 618.3,90.7 620.0,91.3 C621.7,91.9 623.3,92.9 625.7,93.5 C628.1,94.0 631.4,94.3 634.3,94.6 C637.1,94.9 640.0,95.1 642.8,95.2 C645.7,95.3 648.5,95.5 651.4,95.2 C654.2,94.9 657.1,93.8 659.9,93.5 C662.8,93.1 665.6,93.2 668.5,93.2 C671.3,93.1 674.2,93.4 677.0,93.2 C679.9,93.0 682.7,92.6 685.6,92.0 C688.4,91.5 691.3,91.2 694.1,89.9 C697.0,88.6 699.8,86.2 702.7,84.2 C705.5,82.2 708.4,79.7 711.2,77.8 C714.1,75.9 716.9,74.4 719.8,72.8 C722.7,71.2 725.5,69.6 728.4,68.1 C731.2,66.5 734.1,65.0 736.9,63.5 C739.8,62.0 742.4,60.6 745.5,59.2 C748.5,57.9 752.2,57.0 755.0,55.6 C757.8,54.3 760.0,52.7 762.5,51.2 C765.0,49.8 767.5,48.3 770.0,46.9 C772.5,45.4 775.0,43.9 777.5,42.5 C780.0,41.1 782.9,39.7 785.0,38.8 C787.1,37.8 788.5,37.4 790.0,36.9 C791.5,36.4 793.1,35.8 793.8,35.6" fill="none" stroke="#e2d600" stroke-width="0.74" stroke-linejoin="round"/>
<rect x="986" y="0" width="1" height="212" fill="#a2a6aa"/>
<rect x="24" y="211.45" width="963" height="1" fill="#b4b4b4"/>
<rect x="987" y="4.50" width="2.2" height="1" fill="#b4b4b4"/>
<text x="990" y="7.85" font-family="'Liberation Sans', sans-serif" font-size="8" font-weight="normal" fill="#d6d6d6" textLength="24" lengthAdjust="spacingAndGlyphs" text-anchor="start" >182.300</text>
<rect x="987" y="21.75" width="2.2" height="1" fill="#b4b4b4"/>
<text x="990" y="25.10" font-family="'Liberation Sans', sans-serif" font-size="8" font-weight="normal" fill="#d6d6d6" textLength="24" lengthAdjust="spacingAndGlyphs" text-anchor="start" >178.160</text>
<rect x="987" y="38.99" width="2.2" height="1" fill="#b4b4b4"/>
<text x="990" y="42.34" font-family="'Liberation Sans', sans-serif" font-size="8" font-weight="normal" fill="#d6d6d6" textLength="24" lengthAdjust="spacingAndGlyphs" text-anchor="start" >174.020</text>
<rect x="987" y="56.23" width="2.2" height="1" fill="#b4b4b4"/>
<text x="990" y="59.59" font-family="'Liberation Sans', sans-serif" font-size="8" font-weight="normal" fill="#d6d6d6" textLength="24" lengthAdjust="spacingAndGlyphs" text-anchor="start" >169.880</text>
<rect x="987" y="73.48" width="2.2" height="1" fill="#b4b4b4"/>
<text x="990" y="76.83" font-family="'Liberation Sans', sans-serif" font-size="8" font-weight="normal" fill="#d6d6d6" textLength="24" lengthAdjust="spacingAndGlyphs" text-anchor="start" >165.740</text>
<rect x="987" y="90.73" width="2.2" height="1" fill="#b4b4b4"/>
<text x="990" y="94.08" font-family="'Liberation Sans', sans-serif" font-size="8" font-weight="normal" fill="#d6d6d6" textLength="24" lengthAdjust="spacingAndGlyphs" text-anchor="start" >161.600</text>
<rect x="987" y="107.97" width="2.2" height="1" fill="#b4b4b4"/>
<text x="990" y="111.32" font-family="'Liberation Sans', sans-serif" font-size="8" font-weight="normal" fill="#d6d6d6" textLength="24" lengthAdjust="spacingAndGlyphs" text-anchor="start" >157.460</text>
<rect x="987" y="125.22" width="2.2" height="1" fill="#b4b4b4"/>
<text x="990" y="128.56" font-family="'Liberation Sans', sans-serif" font-size="8" font-weight="normal" fill="#d6d6d6" textLength="24" lengthAdjust="spacingAndGlyphs" text-anchor="start" >153.320</text>
<rect x="987" y="142.46" width="2.2" height="1" fill="#b4b4b4"/>
<text x="990" y="145.81" font-family="'Liberation Sans', sans-serif" font-size="8" font-weight="normal" fill="#d6d6d6" textLength="24" lengthAdjust="spacingAndGlyphs" text-anchor="start" >149.180</text>
<rect x="987" y="159.71" width="2.2" height="1" fill="#b4b4b4"/>
<text x="990" y="163.06" font-family="'Liberation Sans', sans-serif" font-size="8" font-weight="normal" fill="#d6d6d6" textLength="24" lengthAdjust="spacingAndGlyphs" text-anchor="start" >145.040</text>
<rect x="987" y="176.95" width="2.2" height="1" fill="#b4b4b4"/>
<text x="990" y="180.30" font-family="'Liberation Sans', sans-serif" font-size="8" font-weight="normal" fill="#d6d6d6" textLength="24" lengthAdjust="spacingAndGlyphs" text-anchor="start" >140.900</text>
<rect x="987" y="194.20" width="2.2" height="1" fill="#b4b4b4"/>
<text x="990" y="197.55" font-family="'Liberation Sans', sans-serif" font-size="8" font-weight="normal" fill="#d6d6d6" textLength="24" lengthAdjust="spacingAndGlyphs" text-anchor="start" >136.760</text>
<text x="0.0" y="220.4" font-family="'Liberation Sans', sans-serif" font-size="8" font-weight="normal" fill="#d6d6d6" textLength="38.6" lengthAdjust="spacingAndGlyphs" text-anchor="start" >15 May 2022</text>
<rect x="69.40" y="212" width="1" height="2.2" fill="#b4b4b4"/>
<text x="69.0" y="220.4" font-family="'Liberation Sans', sans-serif" font-size="8" font-weight="normal" fill="#d6d6d6" textLength="34.2" lengthAdjust="spacingAndGlyphs" text-anchor="start" >4 Sep 2022</text>
<rect x="138.40" y="212" width="1" height="2.2" fill="#b4b4b4"/>
<text x="138.0" y="220.4" font-family="'Liberation Sans', sans-serif" font-size="8" font-weight="normal" fill="#d6d6d6" textLength="37.9" lengthAdjust="spacingAndGlyphs" text-anchor="start" >25 Dec 2022</text>
<rect x="207.40" y="212" width="1" height="2.2" fill="#b4b4b4"/>
<text x="207.0" y="220.4" font-family="'Liberation Sans', sans-serif" font-size="8" font-weight="normal" fill="#d6d6d6" textLength="36.0" lengthAdjust="spacingAndGlyphs" text-anchor="start" >16 Apr 2023</text>
<rect x="276.40" y="212" width="1" height="2.2" fill="#b4b4b4"/>
<text x="276.0" y="220.4" font-family="'Liberation Sans', sans-serif" font-size="8" font-weight="normal" fill="#d6d6d6" textLength="33.8" lengthAdjust="spacingAndGlyphs" text-anchor="start" >6 Aug 2023</text>
<rect x="345.40" y="212" width="1" height="2.2" fill="#b4b4b4"/>
<text x="345.0" y="220.4" font-family="'Liberation Sans', sans-serif" font-size="8" font-weight="normal" fill="#d6d6d6" textLength="37.9" lengthAdjust="spacingAndGlyphs" text-anchor="start" >26 Nov 2023</text>
<rect x="414.40" y="212" width="1" height="2.2" fill="#b4b4b4"/>
<text x="414.0" y="220.4" font-family="'Liberation Sans', sans-serif" font-size="8" font-weight="normal" fill="#d6d6d6" textLength="37.5" lengthAdjust="spacingAndGlyphs" text-anchor="start" >17 Mar 2024</text>
<rect x="483.40" y="212" width="1" height="2.2" fill="#b4b4b4"/>
<text x="483.0" y="220.4" font-family="'Liberation Sans', sans-serif" font-size="8" font-weight="normal" fill="#d6d6d6" textLength="30.8" lengthAdjust="spacingAndGlyphs" text-anchor="start" >7 Jul 2024</text>
<rect x="552.40" y="212" width="1" height="2.2" fill="#b4b4b4"/>
<text x="552.0" y="220.4" font-family="'Liberation Sans', sans-serif" font-size="8" font-weight="normal" fill="#d6d6d6" textLength="36.4" lengthAdjust="spacingAndGlyphs" text-anchor="start" >27 Oct 2024</text>
<rect x="621.40" y="212" width="1" height="2.2" fill="#b4b4b4"/>
<text x="621.0" y="220.4" font-family="'Liberation Sans', sans-serif" font-size="8" font-weight="normal" fill="#d6d6d6" textLength="37.5" lengthAdjust="spacingAndGlyphs" text-anchor="start" >16 Feb 2025</text>
<rect x="690.40" y="212" width="1" height="2.2" fill="#b4b4b4"/>
<text x="690.0" y="220.4" font-family="'Liberation Sans', sans-serif" font-size="8" font-weight="normal" fill="#d6d6d6" textLength="33.1" lengthAdjust="spacingAndGlyphs" text-anchor="start" >8 Jun 2025</text>
<rect x="759.40" y="212" width="1" height="2.2" fill="#b4b4b4"/>
<text x="759.0" y="220.4" font-family="'Liberation Sans', sans-serif" font-size="8" font-weight="normal" fill="#d6d6d6" textLength="37.9" lengthAdjust="spacingAndGlyphs" text-anchor="start" >28 Sep 2025</text>
<rect x="0" y="224.7" width="1024" height="3.2" fill="#c9e3ee"/>
<rect x="0" y="225.4" width="1024" height="1.8" fill="#ffffff"/>
<rect x="1" y="248.9" width="985" height="1.3" fill="#0000a0"/>
<rect x="1" y="259.45" width="985" height="1.3" fill="#004200"/>
<rect x="-0.51" y="387.96" width="2.8" height="8.55" fill="#ef5350"/>
<line x1="5.20" y1="396.23" x2="5.20" y2="409.63" stroke="#ef5350" stroke-width="0.62"/>
<rect x="3.80" y="396.80" width="2.8" height="6.84" fill="#ef5350"/>
<line x1="9.51" y1="397.94" x2="9.51" y2="409.63" stroke="#ef5350" stroke-width="0.62"/>
<rect x="8.11" y="402.93" width="2.8" height="1.43" fill="#ef5350"/>
<rect x="12.42" y="401.93" width="2.8" height="1.71" fill="#26a69a"/>
<line x1="18.13" y1="391.95" x2="18.13" y2="402.93" stroke="#26a69a" stroke-width="0.62"/>
<rect x="16.73" y="392.95" width="2.8" height="9.55" fill="#26a69a"/>
<line x1="22.44" y1="390.10" x2="22.44" y2="402.50" stroke="#ef5350" stroke-width="0.62"/>
<rect x="21.04" y="392.95" width="2.8" height="8.55" fill="#ef5350"/>
<line x1="26.75" y1="393.38" x2="26.75" y2="402.93" stroke="#ef5350" stroke-width="0.62"/>
<rect x="25.35" y="401.08" width="2.8" height="1.85" fill="#ef5350"/>
<line x1="31.06" y1="387.25" x2="31.06" y2="403.64" stroke="#26a69a" stroke-width="0.62"/>
<rect x="29.66" y="389.67" width="2.8" height="13.26" fill="#26a69a"/>
<line x1="35.37" y1="389.10" x2="35.37" y2="398.65" stroke="#ef5350" stroke-width="0.62"/>
<rect x="33.97" y="389.67" width="2.8" height="7.56" fill="#ef5350"/>
<line x1="39.67" y1="394.38" x2="39.67" y2="406.78" stroke="#26a69a" stroke-width="0.62"/>
<rect x="38.27" y="397.23" width="2.8" height="1.00" fill="#26a69a"/>
<line x1="43.98" y1="395.80" x2="43.98" y2="409.63" stroke="#ef5350" stroke-width="0.62"/>
<rect x="42.58" y="397.23" width="2.8" height="6.42" fill="#ef5350"/>
<line x1="48.29" y1="380.55" x2="48.29" y2="406.49" stroke="#26a69a" stroke-width="0.62"/>
<rect x="46.89" y="399.37" width="2.8" height="4.99" fill="#26a69a"/>
<line x1="52.60" y1="389.67" x2="52.60" y2="414.76" stroke="#ef5350" stroke-width="0.62"/>
<rect x="51.20" y="399.65" width="2.8" height="4.28" fill="#ef5350"/>
<line x1="56.91" y1="398.65" x2="56.91" y2="423.60" stroke="#ef5350" stroke-width="0.62"/>
<rect x="55.51" y="403.64" width="2.8" height="3.14" fill="#ef5350"/>
<line x1="61.22" y1="395.80" x2="61.22" y2="430.73" stroke="#26a69a" stroke-width="0.62"/>
<rect x="59.82" y="405.78" width="2.8" height="22.81" fill="#26a69a"/>
<line x1="65.53" y1="397.23" x2="65.53" y2="415.76" stroke="#ef5350" stroke-width="0.62"/>
<rect x="64.13" y="405.35" width="2.8" height="8.55" fill="#ef5350"/>
<line x1="69.84" y1="397.23" x2="69.84" y2="420.04" stroke="#26a69a" stroke-width="0.62"/>
<rect x="68.44" y="401.93" width="2.8" height="12.40" fill="#26a69a"/>
<line x1="74.15" y1="393.95" x2="74.15" y2="408.21" stroke="#26a69a" stroke-width="0.62"/>
<rect x="72.75" y="401.50" width="2.8" height="1.43" fill="#26a69a"/>
<line x1="78.46" y1="389.10" x2="78.46" y2="405.35" stroke="#26a69a" stroke-width="0.62"/>
<rect x="77.06" y="391.10" width="2.8" height="10.84" fill="#26a69a"/>
<line x1="82.76" y1="387.96" x2="82.76" y2="398.65" stroke="#ef5350" stroke-width="0.62"/>
<rect x="81.36" y="392.24" width="2.8" height="4.99" fill="#ef5350"/>
<line x1="87.07" y1="391.95" x2="87.07" y2="404.78" stroke="#ef5350" stroke-width="0.62"/>
<rect x="85.67" y="396.80" width="2.8" height="6.84" fill="#ef5350"/>
<line x1="91.38" y1="396.23" x2="91.38" y2="404.78" stroke="#26a69a" stroke-width="0.62"/>
<rect x="89.98" y="402.22" width="2.8" height="1.71" fill="#26a69a"/>
<line x1="95.69" y1="393.38" x2="95.69" y2="405.07" stroke="#26a69a" stroke-width="0.62"/>
<rect x="94.29" y="401.08" width="2.8" height="1.85" fill="#26a69a"/>
<line x1="100.00" y1="397.23" x2="100.00" y2="402.22" stroke="#26a69a" stroke-width="0.62"/>
<rect x="98.60" y="400.08" width="2.8" height="1.43" fill="#26a69a"/>
<line x1="104.31" y1="392.95" x2="104.31" y2="402.93" stroke="#26a69a" stroke-width="0.62"/>
<rect x="102.91" y="397.94" width="2.8" height="3.14" fill="#26a69a"/>
<line x1="108.62" y1="396.23" x2="108.62" y2="407.64" stroke="#ef5350" stroke-width="0.62"/>
<rect x="107.22" y="397.94" width="2.8" height="3.99" fill="#ef5350"/>
<line x1="112.93" y1="395.09" x2="112.93" y2="406.49" stroke="#26a69a" stroke-width="0.62"/>
<rect x="111.53" y="396.80" width="2.8" height="5.13" fill="#26a69a"/>
<line x1="117.24" y1="394.38" x2="117.24" y2="400.51" stroke="#26a69a" stroke-width="0.62"/>
<rect x="115.84" y="396.23" width="2.8" height="1.71" fill="#26a69a"/>
<line x1="121.55" y1="383.97" x2="121.55" y2="398.23" stroke="#26a69a" stroke-width="0.62"/>
<rect x="120.15" y="388.67" width="2.8" height="7.13" fill="#26a69a"/>
<line x1="125.86" y1="387.25" x2="125.86" y2="399.08" stroke="#ef5350" stroke-width="0.62"/>
<rect x="124.46" y="389.67" width="2.8" height="8.55" fill="#ef5350"/>
<line x1="130.16" y1="393.95" x2="130.16" y2="400.51" stroke="#ef5350" stroke-width="0.62"/>
<rect x="128.76" y="397.94" width="2.8" height="2.14" fill="#ef5350"/>
<line x1="134.47" y1="393.38" x2="134.47" y2="401.93" stroke="#26a69a" stroke-width="0.62"/>
<rect x="133.07" y="399.37" width="2.8" height="1.71" fill="#26a69a"/>
<line x1="138.78" y1="378.27" x2="138.78" y2="401.08" stroke="#26a69a" stroke-width="0.62"/>
<rect x="137.38" y="381.12" width="2.8" height="19.39" fill="#26a69a"/>
<line x1="143.09" y1="376.84" x2="143.09" y2="386.82" stroke="#ef5350" stroke-width="0.62"/>
<rect x="141.69" y="380.55" width="2.8" height="4.28" fill="#ef5350"/>
<line x1="147.40" y1="383.21" x2="147.40" y2="394.90" stroke="#ef5350" stroke-width="0.62"/>
<rect x="146.00" y="385.63" width="2.8" height="8.55" fill="#ef5350"/>
<line x1="151.71" y1="390.91" x2="151.71" y2="402.74" stroke="#ef5350" stroke-width="0.62"/>
<rect x="150.31" y="393.76" width="2.8" height="6.13" fill="#ef5350"/>
<line x1="156.02" y1="390.34" x2="156.02" y2="400.89" stroke="#26a69a" stroke-width="0.62"/>
<rect x="154.62" y="394.90" width="2.8" height="5.70" fill="#26a69a"/>
<line x1="160.33" y1="382.78" x2="160.33" y2="396.33" stroke="#26a69a" stroke-width="0.62"/>
<rect x="158.93" y="383.78" width="2.8" height="11.83" fill="#26a69a"/>
<line x1="164.64" y1="382.35" x2="164.64" y2="389.48" stroke="#ef5350" stroke-width="0.62"/>
<rect x="163.24" y="383.78" width="2.8" height="3.71" fill="#ef5350"/>
<line x1="168.94" y1="374.65" x2="168.94" y2="386.35" stroke="#26a69a" stroke-width="0.62"/>
<rect x="167.54" y="377.79" width="2.8" height="8.27" fill="#26a69a"/>
<line x1="173.25" y1="371.80" x2="173.25" y2="381.78" stroke="#26a69a" stroke-width="0.62"/>
<rect x="171.85" y="373.51" width="2.8" height="4.99" fill="#26a69a"/>
<line x1="177.56" y1="372.09" x2="177.56" y2="384.92" stroke="#ef5350" stroke-width="0.62"/>
<rect x="176.16" y="374.23" width="2.8" height="8.55" fill="#ef5350"/>
<line x1="181.87" y1="381.78" x2="181.87" y2="392.05" stroke="#ef5350" stroke-width="0.62"/>
<rect x="180.47" y="382.07" width="2.8" height="9.27" fill="#ef5350"/>
<line x1="186.18" y1="389.48" x2="186.18" y2="395.61" stroke="#ef5350" stroke-width="0.62"/>
<rect x="184.78" y="390.91" width="2.8" height="3.99" fill="#ef5350"/>
<line x1="190.49" y1="387.06" x2="190.49" y2="398.46" stroke="#26a69a" stroke-width="0.62"/>
<rect x="189.09" y="392.76" width="2.8" height="4.28" fill="#26a69a"/>
<line x1="194.80" y1="387.77" x2="194.80" y2="395.61" stroke="#26a69a" stroke-width="0.62"/>
<rect x="193.40" y="390.34" width="2.8" height="3.42" fill="#26a69a"/>
<line x1="199.11" y1="388.06" x2="199.11" y2="394.19" stroke="#ef5350" stroke-width="0.62"/>
<rect x="197.71" y="390.34" width="2.8" height="3.42" fill="#ef5350"/>
<line x1="203.42" y1="387.06" x2="203.42" y2="400.89" stroke="#ef5350" stroke-width="0.62"/>
<rect x="202.02" y="392.76" width="2.8" height="3.28" fill="#ef5350"/>
<line x1="207.73" y1="392.05" x2="207.73" y2="407.02" stroke="#ef5350" stroke-width="0.62"/>
<rect x="206.33" y="394.62" width="2.8" height="5.28" fill="#ef5350"/>
<line x1="212.03" y1="391.34" x2="212.03" y2="400.89" stroke="#26a69a" stroke-width="0.62"/>
<rect x="210.63" y="393.47" width="2.8" height="7.13" fill="#26a69a"/>
<line x1="216.34" y1="382.78" x2="216.34" y2="398.04" stroke="#26a69a" stroke-width="0.62"/>
<rect x="214.94" y="386.35" width="2.8" height="8.27" fill="#26a69a"/>
<line x1="220.65" y1="382.78" x2="220.65" y2="389.91" stroke="#26a69a" stroke-width="0.62"/>
<rect x="219.25" y="386.06" width="2.8" height="1.43" fill="#26a69a"/>
<line x1="224.96" y1="379.93" x2="224.96" y2="388.06" stroke="#26a69a" stroke-width="0.62"/>
<rect x="223.56" y="382.78" width="2.8" height="4.70" fill="#26a69a"/>
<line x1="229.27" y1="382.35" x2="229.27" y2="392.76" stroke="#ef5350" stroke-width="0.62"/>
<rect x="227.87" y="383.21" width="2.8" height="4.56" fill="#ef5350"/>
<line x1="233.58" y1="387.06" x2="233.58" y2="392.76" stroke="#26a69a" stroke-width="0.62"/>
<rect x="232.18" y="388.91" width="2.8" height="1.43" fill="#26a69a"/>
<line x1="237.89" y1="383.21" x2="237.89" y2="392.76" stroke="#26a69a" stroke-width="0.62"/>
<rect x="236.49" y="384.92" width="2.8" height="4.56" fill="#26a69a"/>
<line x1="242.20" y1="379.93" x2="242.20" y2="392.05" stroke="#ef5350" stroke-width="0.62"/>
<rect x="240.80" y="384.92" width="2.8" height="6.42" fill="#ef5350"/>
<line x1="246.51" y1="376.65" x2="246.51" y2="392.76" stroke="#26a69a" stroke-width="0.62"/>
<rect x="245.11" y="379.93" width="2.8" height="11.83" fill="#26a69a"/>
<line x1="250.82" y1="370.95" x2="250.82" y2="382.07" stroke="#26a69a" stroke-width="0.62"/>
<rect x="249.42" y="373.23" width="2.8" height="8.13" fill="#26a69a"/>
<line x1="255.12" y1="371.38" x2="255.12" y2="378.08" stroke="#ef5350" stroke-width="0.62"/>
<rect x="253.72" y="372.80" width="2.8" height="2.42" fill="#ef5350"/>
<line x1="259.43" y1="368.52" x2="259.43" y2="377.51" stroke="#26a69a" stroke-width="0.62"/>
<rect x="258.03" y="369.95" width="2.8" height="4.28" fill="#26a69a"/>
<line x1="263.74" y1="362.11" x2="263.74" y2="371.80" stroke="#26a69a" stroke-width="0.62"/>
<rect x="262.34" y="365.25" width="2.8" height="6.13" fill="#26a69a"/>
<line x1="268.05" y1="359.26" x2="268.05" y2="370.38" stroke="#26a69a" stroke-width="0.62"/>
<rect x="266.65" y="364.25" width="2.8" height="1.85" fill="#26a69a"/>
<line x1="272.36" y1="360.40" x2="272.36" y2="374.94" stroke="#26a69a" stroke-width="0.62"/>
<rect x="270.96" y="361.82" width="2.8" height="3.85" fill="#26a69a"/>
<line x1="276.67" y1="353.46" x2="276.67" y2="367.01" stroke="#26a69a" stroke-width="0.62"/>
<rect x="275.27" y="355.03" width="2.8" height="11.41" fill="#26a69a"/>
<line x1="280.98" y1="352.04" x2="280.98" y2="360.59" stroke="#ef5350" stroke-width="0.62"/>
<rect x="279.58" y="354.89" width="2.8" height="4.99" fill="#ef5350"/>
<line x1="285.29" y1="357.03" x2="285.29" y2="363.44" stroke="#ef5350" stroke-width="0.62"/>
<rect x="283.89" y="359.88" width="2.8" height="1.71" fill="#ef5350"/>
<line x1="289.60" y1="354.89" x2="289.60" y2="364.87" stroke="#26a69a" stroke-width="0.62"/>
<rect x="288.20" y="357.03" width="2.8" height="3.99" fill="#26a69a"/>
<line x1="293.91" y1="345.62" x2="293.91" y2="357.74" stroke="#26a69a" stroke-width="0.62"/>
<rect x="292.51" y="346.34" width="2.8" height="10.69" fill="#26a69a"/>
<line x1="298.21" y1="334.93" x2="298.21" y2="350.19" stroke="#26a69a" stroke-width="0.62"/>
<rect x="296.81" y="340.21" width="2.8" height="8.98" fill="#26a69a"/>
<line x1="302.52" y1="338.21" x2="302.52" y2="350.61" stroke="#ef5350" stroke-width="0.62"/>
<rect x="301.12" y="339.64" width="2.8" height="8.84" fill="#ef5350"/>
<line x1="306.83" y1="337.35" x2="306.83" y2="348.76" stroke="#26a69a" stroke-width="0.62"/>
<rect x="305.43" y="338.21" width="2.8" height="9.98" fill="#26a69a"/>
<line x1="311.14" y1="337.78" x2="311.14" y2="344.91" stroke="#ef5350" stroke-width="0.62"/>
<rect x="309.74" y="338.21" width="2.8" height="4.28" fill="#ef5350"/>
<line x1="315.45" y1="334.22" x2="315.45" y2="344.48" stroke="#26a69a" stroke-width="0.62"/>
<rect x="314.05" y="336.78" width="2.8" height="4.85" fill="#26a69a"/>
<line x1="319.76" y1="333.50" x2="319.76" y2="343.48" stroke="#26a69a" stroke-width="0.62"/>
<rect x="318.36" y="334.50" width="2.8" height="4.70" fill="#26a69a"/>
<line x1="324.07" y1="334.50" x2="324.07" y2="345.62" stroke="#ef5350" stroke-width="0.62"/>
<rect x="322.67" y="334.93" width="2.8" height="4.28" fill="#ef5350"/>
<line x1="328.38" y1="334.22" x2="328.38" y2="340.63" stroke="#26a69a" stroke-width="0.62"/>
<rect x="326.98" y="336.78" width="2.8" height="2.42" fill="#26a69a"/>
<line x1="332.69" y1="327.09" x2="332.69" y2="338.78" stroke="#26a69a" stroke-width="0.62"/>
<rect x="331.29" y="328.80" width="2.8" height="9.41" fill="#26a69a"/>
<line x1="337.00" y1="328.51" x2="337.00" y2="334.22" stroke="#ef5350" stroke-width="0.62"/>
<rect x="335.60" y="329.23" width="2.8" height="2.85" fill="#ef5350"/>
<line x1="341.31" y1="321.67" x2="341.31" y2="333.93" stroke="#26a69a" stroke-width="0.62"/>
<rect x="339.91" y="323.95" width="2.8" height="7.70" fill="#26a69a"/>
<line x1="345.61" y1="315.68" x2="345.61" y2="325.38" stroke="#26a69a" stroke-width="0.62"/>
<rect x="344.21" y="317.11" width="2.8" height="7.84" fill="#26a69a"/>
<line x1="349.92" y1="313.54" x2="349.92" y2="322.53" stroke="#ef5350" stroke-width="0.62"/>
<rect x="348.52" y="317.11" width="2.8" height="3.99" fill="#ef5350"/>
<line x1="354.23" y1="317.39" x2="354.23" y2="324.95" stroke="#ef5350" stroke-width="0.62"/>
<rect x="352.83" y="320.67" width="2.8" height="3.56" fill="#ef5350"/>
<line x1="358.54" y1="312.12" x2="358.54" y2="326.38" stroke="#26a69a" stroke-width="0.62"/>
<rect x="357.14" y="312.83" width="2.8" height="11.41" fill="#26a69a"/>
<line x1="362.85" y1="312.12" x2="362.85" y2="319.96" stroke="#26a69a" stroke-width="0.62"/>
<rect x="361.45" y="312.83" width="2.8" height="6.42" fill="#26a69a"/>
<line x1="367.16" y1="306.42" x2="367.16" y2="314.97" stroke="#26a69a" stroke-width="0.62"/>
<rect x="365.76" y="309.69" width="2.8" height="4.28" fill="#26a69a"/>
<line x1="371.47" y1="305.42" x2="371.47" y2="317.82" stroke="#ef5350" stroke-width="0.62"/>
<rect x="370.07" y="310.69" width="2.8" height="5.28" fill="#ef5350"/>
<line x1="375.78" y1="310.27" x2="375.78" y2="316.82" stroke="#26a69a" stroke-width="0.62"/>
<rect x="374.38" y="312.83" width="2.8" height="2.85" fill="#26a69a"/>
<line x1="380.09" y1="306.84" x2="380.09" y2="314.97" stroke="#26a69a" stroke-width="0.62"/>
<rect x="378.69" y="307.13" width="2.8" height="7.41" fill="#26a69a"/>
<line x1="384.39" y1="308.84" x2="384.39" y2="317.11" stroke="#26a69a" stroke-width="0.62"/>
<rect x="383.00" y="313.12" width="2.8" height="2.85" fill="#26a69a"/>
<line x1="388.70" y1="308.27" x2="388.70" y2="322.10" stroke="#26a69a" stroke-width="0.62"/>
<rect x="387.30" y="313.12" width="2.8" height="1.43" fill="#26a69a"/>
<line x1="393.01" y1="309.98" x2="393.01" y2="321.39" stroke="#26a69a" stroke-width="0.62"/>
<rect x="391.61" y="312.12" width="2.8" height="1.85" fill="#26a69a"/>
<line x1="397.32" y1="308.27" x2="397.32" y2="319.25" stroke="#26a69a" stroke-width="0.62"/>
<rect x="395.92" y="310.27" width="2.8" height="3.28" fill="#26a69a"/>
<line x1="401.63" y1="302.14" x2="401.63" y2="312.55" stroke="#26a69a" stroke-width="0.62"/>
<rect x="400.23" y="304.28" width="2.8" height="7.13" fill="#26a69a"/>
<line x1="405.94" y1="300.25" x2="405.94" y2="315.93" stroke="#ef5350" stroke-width="0.62"/>
<rect x="404.54" y="301.67" width="2.8" height="13.69" fill="#ef5350"/>
<line x1="410.25" y1="313.08" x2="410.25" y2="324.48" stroke="#ef5350" stroke-width="0.62"/>
<rect x="408.85" y="315.36" width="2.8" height="5.99" fill="#ef5350"/>
<line x1="414.56" y1="319.21" x2="414.56" y2="329.19" stroke="#ef5350" stroke-width="0.62"/>
<rect x="413.16" y="321.06" width="2.8" height="7.70" fill="#ef5350"/>
<line x1="418.87" y1="313.50" x2="418.87" y2="334.89" stroke="#26a69a" stroke-width="0.62"/>
<rect x="417.47" y="314.93" width="2.8" height="14.26" fill="#26a69a"/>
<line x1="423.18" y1="312.51" x2="423.18" y2="330.19" stroke="#ef5350" stroke-width="0.62"/>
<rect x="421.78" y="314.93" width="2.8" height="11.83" fill="#ef5350"/>
<line x1="427.49" y1="322.49" x2="427.49" y2="333.46" stroke="#ef5350" stroke-width="0.62"/>
<rect x="426.09" y="327.05" width="2.8" height="4.56" fill="#ef5350"/>
<line x1="431.79" y1="324.20" x2="431.79" y2="334.89" stroke="#26a69a" stroke-width="0.62"/>
<rect x="430.39" y="325.34" width="2.8" height="6.70" fill="#26a69a"/>
<line x1="436.10" y1="316.78" x2="436.10" y2="327.76" stroke="#26a69a" stroke-width="0.62"/>
<rect x="434.70" y="317.35" width="2.8" height="9.41" fill="#26a69a"/>
<line x1="440.41" y1="313.93" x2="440.41" y2="322.49" stroke="#ef5350" stroke-width="0.62"/>
<rect x="439.01" y="317.78" width="2.8" height="2.42" fill="#ef5350"/>
<line x1="444.72" y1="313.08" x2="444.72" y2="322.06" stroke="#26a69a" stroke-width="0.62"/>
<rect x="443.32" y="316.36" width="2.8" height="4.70" fill="#26a69a"/>
<line x1="449.03" y1="314.22" x2="449.03" y2="319.92" stroke="#26a69a" stroke-width="0.62"/>
<rect x="447.63" y="315.36" width="2.8" height="3.85" fill="#26a69a"/>
<line x1="453.34" y1="308.80" x2="453.34" y2="316.78" stroke="#26a69a" stroke-width="0.62"/>
<rect x="451.94" y="310.65" width="2.8" height="5.70" fill="#26a69a"/>
<line x1="457.65" y1="306.80" x2="457.65" y2="314.93" stroke="#26a69a" stroke-width="0.62"/>
<rect x="456.25" y="311.65" width="2.8" height="1.85" fill="#26a69a"/>
<line x1="461.96" y1="311.65" x2="461.96" y2="324.91" stroke="#ef5350" stroke-width="0.62"/>
<rect x="460.56" y="312.08" width="2.8" height="3.28" fill="#ef5350"/>
<line x1="466.27" y1="312.51" x2="466.27" y2="321.06" stroke="#26a69a" stroke-width="0.62"/>
<rect x="464.87" y="313.93" width="2.8" height="3.42" fill="#26a69a"/>
<line x1="470.57" y1="309.94" x2="470.57" y2="315.93" stroke="#26a69a" stroke-width="0.62"/>
<rect x="469.18" y="311.65" width="2.8" height="2.57" fill="#26a69a"/>
<line x1="474.88" y1="309.65" x2="474.88" y2="319.21" stroke="#ef5350" stroke-width="0.62"/>
<rect x="473.48" y="313.50" width="2.8" height="3.28" fill="#ef5350"/>
<line x1="479.19" y1="315.36" x2="479.19" y2="324.20" stroke="#ef5350" stroke-width="0.62"/>
<rect x="477.79" y="316.78" width="2.8" height="3.42" fill="#ef5350"/>
<line x1="483.50" y1="312.51" x2="483.50" y2="320.21" stroke="#26a69a" stroke-width="0.62"/>
<rect x="482.10" y="313.93" width="2.8" height="5.70" fill="#26a69a"/>
<line x1="487.81" y1="310.23" x2="487.81" y2="317.35" stroke="#26a69a" stroke-width="0.62"/>
<rect x="486.41" y="313.50" width="2.8" height="2.42" fill="#26a69a"/>
<line x1="492.12" y1="309.94" x2="492.12" y2="319.92" stroke="#ef5350" stroke-width="0.62"/>
<rect x="490.72" y="313.93" width="2.8" height="4.85" fill="#ef5350"/>
<line x1="496.43" y1="314.93" x2="496.43" y2="322.06" stroke="#ef5350" stroke-width="0.62"/>
<rect x="495.03" y="317.78" width="2.8" height="1.85" fill="#ef5350"/>
<line x1="500.74" y1="316.36" x2="500.74" y2="322.77" stroke="#26a69a" stroke-width="0.62"/>
<rect x="499.34" y="319.21" width="2.8" height="2.14" fill="#26a69a"/>
<line x1="505.05" y1="317.35" x2="505.05" y2="324.20" stroke="#26a69a" stroke-width="0.62"/>
<rect x="503.65" y="318.49" width="2.8" height="2.85" fill="#26a69a"/>
<line x1="509.36" y1="315.93" x2="509.36" y2="323.06" stroke="#26a69a" stroke-width="0.62"/>
<rect x="507.96" y="317.35" width="2.8" height="2.85" fill="#26a69a"/>
<line x1="513.66" y1="311.37" x2="513.66" y2="318.78" stroke="#26a69a" stroke-width="0.62"/>
<rect x="512.26" y="313.08" width="2.8" height="3.71" fill="#26a69a"/>
<line x1="517.97" y1="303.95" x2="517.97" y2="314.93" stroke="#26a69a" stroke-width="0.62"/>
<rect x="516.57" y="310.23" width="2.8" height="3.99" fill="#26a69a"/>
<line x1="522.28" y1="304.95" x2="522.28" y2="312.79" stroke="#26a69a" stroke-width="0.62"/>
<rect x="520.88" y="309.65" width="2.8" height="1.43" fill="#26a69a"/>
<line x1="526.59" y1="305.38" x2="526.59" y2="312.51" stroke="#26a69a" stroke-width="0.62"/>
<rect x="525.19" y="307.37" width="2.8" height="3.99" fill="#26a69a"/>
<line x1="530.90" y1="304.95" x2="530.90" y2="312.08" stroke="#ef5350" stroke-width="0.62"/>
<rect x="529.50" y="307.80" width="2.8" height="3.28" fill="#ef5350"/>
<line x1="535.21" y1="300.34" x2="535.21" y2="307.75" stroke="#26a69a" stroke-width="0.62"/>
<rect x="533.81" y="303.76" width="2.8" height="1.43" fill="#26a69a"/>
<line x1="539.52" y1="303.19" x2="539.52" y2="314.88" stroke="#ef5350" stroke-width="0.62"/>
<rect x="538.12" y="303.76" width="2.8" height="8.27" fill="#ef5350"/>
<line x1="543.83" y1="308.46" x2="543.83" y2="313.74" stroke="#ef5350" stroke-width="0.62"/>
<rect x="542.43" y="310.60" width="2.8" height="2.57" fill="#ef5350"/>
<line x1="548.14" y1="307.47" x2="548.14" y2="314.17" stroke="#26a69a" stroke-width="0.62"/>
<rect x="546.74" y="309.46" width="2.8" height="3.99" fill="#26a69a"/>
<line x1="552.45" y1="303.76" x2="552.45" y2="311.32" stroke="#26a69a" stroke-width="0.62"/>
<rect x="551.05" y="305.19" width="2.8" height="5.42" fill="#26a69a"/>
<line x1="556.75" y1="303.47" x2="556.75" y2="308.46" stroke="#26a69a" stroke-width="0.62"/>
<rect x="555.36" y="304.62" width="2.8" height="2.42" fill="#26a69a"/>
<line x1="561.06" y1="300.34" x2="561.06" y2="307.04" stroke="#26a69a" stroke-width="0.62"/>
<rect x="559.66" y="300.91" width="2.8" height="4.70" fill="#26a69a"/>
<line x1="565.37" y1="300.62" x2="565.37" y2="307.04" stroke="#ef5350" stroke-width="0.62"/>
<rect x="563.97" y="301.76" width="2.8" height="2.00" fill="#ef5350"/>
<line x1="569.68" y1="294.92" x2="569.68" y2="304.19" stroke="#26a69a" stroke-width="0.62"/>
<rect x="568.28" y="295.21" width="2.8" height="8.27" fill="#26a69a"/>
<line x1="573.99" y1="295.21" x2="573.99" y2="303.76" stroke="#ef5350" stroke-width="0.62"/>
<rect x="572.59" y="296.06" width="2.8" height="5.28" fill="#ef5350"/>
<line x1="578.30" y1="296.06" x2="578.30" y2="303.19" stroke="#26a69a" stroke-width="0.62"/>
<rect x="576.90" y="296.35" width="2.8" height="5.99" fill="#26a69a"/>
<line x1="582.61" y1="295.21" x2="582.61" y2="298.91" stroke="#26a69a" stroke-width="0.62"/>
<rect x="581.21" y="296.06" width="2.8" height="1.43" fill="#26a69a"/>
<line x1="586.92" y1="292.35" x2="586.92" y2="297.77" stroke="#26a69a" stroke-width="0.62"/>
<rect x="585.52" y="292.78" width="2.8" height="4.28" fill="#26a69a"/>
<line x1="591.23" y1="291.36" x2="591.23" y2="295.63" stroke="#26a69a" stroke-width="0.62"/>
<rect x="589.83" y="292.78" width="2.8" height="1.00" fill="#26a69a"/>
<line x1="595.54" y1="290.36" x2="595.54" y2="295.21" stroke="#26a69a" stroke-width="0.62"/>
<rect x="594.14" y="291.36" width="2.8" height="3.28" fill="#26a69a"/>
<line x1="599.85" y1="290.93" x2="599.85" y2="299.48" stroke="#ef5350" stroke-width="0.62"/>
<rect x="598.45" y="291.78" width="2.8" height="5.99" fill="#ef5350"/>
<line x1="604.15" y1="295.63" x2="604.15" y2="304.19" stroke="#ef5350" stroke-width="0.62"/>
<rect x="602.75" y="297.06" width="2.8" height="6.13" fill="#ef5350"/>
<line x1="608.46" y1="299.91" x2="608.46" y2="313.74" stroke="#ef5350" stroke-width="0.62"/>
<rect x="607.06" y="303.76" width="2.8" height="8.27" fill="#ef5350"/>
<line x1="612.77" y1="308.04" x2="612.77" y2="314.17" stroke="#26a69a" stroke-width="0.62"/>
<rect x="611.37" y="311.32" width="2.8" height="1.85" fill="#26a69a"/>
<line x1="617.08" y1="305.61" x2="617.08" y2="312.74" stroke="#26a69a" stroke-width="0.62"/>
<rect x="615.68" y="306.04" width="2.8" height="6.27" fill="#26a69a"/>
<line x1="621.39" y1="280.66" x2="621.39" y2="293.49" stroke="#26a69a" stroke-width="0.62"/>
<rect x="619.99" y="282.09" width="2.8" height="7.13" fill="#26a69a"/>
<line x1="625.70" y1="272.82" x2="625.70" y2="284.94" stroke="#26a69a" stroke-width="0.62"/>
<rect x="624.30" y="273.53" width="2.8" height="9.98" fill="#26a69a"/>
<line x1="630.01" y1="267.55" x2="630.01" y2="276.10" stroke="#26a69a" stroke-width="0.62"/>
<rect x="628.61" y="269.54" width="2.8" height="6.13" fill="#26a69a"/>
<line x1="634.32" y1="267.12" x2="634.32" y2="277.10" stroke="#ef5350" stroke-width="0.62"/>
<rect x="632.92" y="270.97" width="2.8" height="4.28" fill="#ef5350"/>
<line x1="638.63" y1="273.25" x2="638.63" y2="286.08" stroke="#ef5350" stroke-width="0.62"/>
<rect x="637.23" y="275.25" width="2.8" height="10.41" fill="#ef5350"/>
<line x1="642.93" y1="275.25" x2="642.93" y2="283.51" stroke="#ef5350" stroke-width="0.62"/>
<rect x="641.53" y="279.24" width="2.8" height="2.14" fill="#ef5350"/>
<line x1="647.24" y1="278.52" x2="647.24" y2="288.08" stroke="#26a69a" stroke-width="0.62"/>
<rect x="645.84" y="280.38" width="2.8" height="2.42" fill="#26a69a"/>
<line x1="651.55" y1="279.95" x2="651.55" y2="287.51" stroke="#ef5350" stroke-width="0.62"/>
<rect x="650.15" y="281.80" width="2.8" height="1.71" fill="#ef5350"/>
<line x1="655.86" y1="278.95" x2="655.86" y2="287.08" stroke="#ef5350" stroke-width="0.62"/>
<rect x="654.46" y="283.51" width="2.8" height="1.43" fill="#ef5350"/>
<line x1="660.17" y1="282.80" x2="660.17" y2="292.78" stroke="#ef5350" stroke-width="0.62"/>
<rect x="658.77" y="284.94" width="2.8" height="2.57" fill="#ef5350"/>
<line x1="664.48" y1="279.61" x2="664.48" y2="289.31" stroke="#26a69a" stroke-width="0.62"/>
<rect x="663.08" y="286.45" width="2.8" height="1.71" fill="#26a69a"/>
<line x1="668.79" y1="277.62" x2="668.79" y2="289.02" stroke="#26a69a" stroke-width="0.62"/>
<rect x="667.39" y="281.04" width="2.8" height="7.56" fill="#26a69a"/>
<line x1="673.10" y1="279.04" x2="673.10" y2="284.32" stroke="#26a69a" stroke-width="0.62"/>
<rect x="671.70" y="279.33" width="2.8" height="2.85" fill="#26a69a"/>
<line x1="677.41" y1="270.49" x2="677.41" y2="281.04" stroke="#26a69a" stroke-width="0.62"/>
<rect x="676.01" y="271.91" width="2.8" height="8.55" fill="#26a69a"/>
<line x1="681.72" y1="267.21" x2="681.72" y2="273.91" stroke="#26a69a" stroke-width="0.62"/>
<rect x="680.32" y="268.21" width="2.8" height="4.70" fill="#26a69a"/>
<line x1="686.02" y1="265.78" x2="686.02" y2="269.35" stroke="#26a69a" stroke-width="0.62"/>
<rect x="684.62" y="266.21" width="2.8" height="2.85" fill="#26a69a"/>
<line x1="690.33" y1="263.93" x2="690.33" y2="269.63" stroke="#ef5350" stroke-width="0.62"/>
<rect x="688.93" y="265.78" width="2.8" height="1.85" fill="#ef5350"/>
<line x1="694.64" y1="265.78" x2="694.64" y2="275.05" stroke="#ef5350" stroke-width="0.62"/>
<rect x="693.24" y="266.49" width="2.8" height="7.41" fill="#ef5350"/>
<line x1="698.95" y1="269.35" x2="698.95" y2="278.19" stroke="#ef5350" stroke-width="0.62"/>
<rect x="697.55" y="272.91" width="2.8" height="1.43" fill="#ef5350"/>
<line x1="703.26" y1="259.08" x2="703.26" y2="276.76" stroke="#26a69a" stroke-width="0.62"/>
<rect x="701.86" y="264.78" width="2.8" height="10.27" fill="#26a69a"/>
<line x1="707.57" y1="261.08" x2="707.57" y2="271.48" stroke="#ef5350" stroke-width="0.62"/>
<rect x="706.17" y="263.93" width="2.8" height="5.42" fill="#ef5350"/>
<line x1="711.88" y1="266.21" x2="711.88" y2="272.91" stroke="#26a69a" stroke-width="0.62"/>
<rect x="710.48" y="268.63" width="2.8" height="1.85" fill="#26a69a"/>
<line x1="716.19" y1="268.21" x2="716.19" y2="282.46" stroke="#ef5350" stroke-width="0.62"/>
<rect x="714.79" y="269.06" width="2.8" height="10.98" fill="#ef5350"/>
<line x1="720.50" y1="272.91" x2="720.50" y2="285.74" stroke="#26a69a" stroke-width="0.62"/>
<rect x="719.10" y="273.34" width="2.8" height="6.70" fill="#26a69a"/>
<line x1="724.81" y1="272.48" x2="724.81" y2="281.04" stroke="#ef5350" stroke-width="0.62"/>
<rect x="723.41" y="273.34" width="2.8" height="3.85" fill="#ef5350"/>
<line x1="729.12" y1="269.35" x2="729.12" y2="279.04" stroke="#26a69a" stroke-width="0.62"/>
<rect x="727.72" y="270.49" width="2.8" height="6.27" fill="#26a69a"/>
<line x1="733.42" y1="262.22" x2="733.42" y2="272.20" stroke="#26a69a" stroke-width="0.62"/>
<rect x="732.02" y="264.78" width="2.8" height="5.70" fill="#26a69a"/>
<line x1="737.73" y1="259.65" x2="737.73" y2="267.21" stroke="#26a69a" stroke-width="0.62"/>
<rect x="736.33" y="261.08" width="2.8" height="5.70" fill="#26a69a"/>
<line x1="742.04" y1="253.66" x2="742.04" y2="263.36" stroke="#26a69a" stroke-width="0.62"/>
<rect x="740.64" y="254.38" width="2.8" height="8.13" fill="#26a69a"/>
<line x1="746.35" y1="249.67" x2="746.35" y2="256.80" stroke="#26a69a" stroke-width="0.62"/>
<rect x="744.95" y="251.52" width="2.8" height="3.85" fill="#26a69a"/>
<line x1="750.66" y1="249.39" x2="750.66" y2="259.08" stroke="#ef5350" stroke-width="0.62"/>
<rect x="749.26" y="251.95" width="2.8" height="1.71" fill="#ef5350"/>
<line x1="754.97" y1="249.39" x2="754.97" y2="256.23" stroke="#26a69a" stroke-width="0.62"/>
<rect x="753.57" y="250.10" width="2.8" height="4.28" fill="#26a69a"/>
<line x1="759.28" y1="246.82" x2="759.28" y2="253.66" stroke="#26a69a" stroke-width="0.62"/>
<rect x="757.88" y="249.10" width="2.8" height="1.71" fill="#26a69a"/>
<line x1="763.59" y1="237.69" x2="763.59" y2="251.95" stroke="#26a69a" stroke-width="0.62"/>
<rect x="762.19" y="238.69" width="2.8" height="11.41" fill="#26a69a"/>
<line x1="767.90" y1="232.56" x2="767.90" y2="242.26" stroke="#26a69a" stroke-width="0.62"/>
<rect x="766.50" y="236.84" width="2.8" height="3.28" fill="#26a69a"/>
<line x1="772.21" y1="235.13" x2="772.21" y2="252.52" stroke="#ef5350" stroke-width="0.62"/>
<rect x="770.81" y="236.84" width="2.8" height="12.26" fill="#ef5350"/>
<line x1="776.51" y1="238.69" x2="776.51" y2="250.53" stroke="#26a69a" stroke-width="0.62"/>
<rect x="775.11" y="242.97" width="2.8" height="6.70" fill="#26a69a"/>
<line x1="780.82" y1="242.26" x2="780.82" y2="250.10" stroke="#ef5350" stroke-width="0.62"/>
<rect x="779.42" y="244.40" width="2.8" height="2.42" fill="#ef5350"/>
<line x1="785.13" y1="236.84" x2="785.13" y2="247.25" stroke="#26a69a" stroke-width="0.62"/>
<rect x="783.73" y="237.69" width="2.8" height="9.12" fill="#26a69a"/>
<line x1="789.44" y1="237.69" x2="789.44" y2="243.68" stroke="#ef5350" stroke-width="0.62"/>
<rect x="788.04" y="238.27" width="2.8" height="1.85" fill="#ef5350"/>
<line x1="793.75" y1="236.84" x2="793.75" y2="245.82" stroke="#ef5350" stroke-width="0.62"/>
<rect x="792.35" y="240.12" width="2.8" height="1.00" fill="#ef5350"/>
<path d="M0.0,418.6 C1.2,418.0 4.8,416.4 7.1,415.0 C9.5,413.7 11.9,412.1 14.3,410.8 C16.6,409.5 19.0,408.3 21.4,407.2 C23.8,406.1 25.9,405.2 28.5,404.4 C31.1,403.5 34.7,402.8 37.1,402.2 C39.4,401.7 39.4,401.3 42.8,401.1 C46.1,400.8 52.3,400.8 57.0,400.8 C61.8,400.8 66.5,401.0 71.3,401.1 C76.0,401.1 80.8,401.1 85.5,401.1 C90.3,401.1 95.0,401.1 99.8,401.1 C104.6,401.1 111.0,401.0 114.1,401.1 C117.1,401.1 116.0,401.6 118.3,401.5 C120.7,401.4 126.4,400.7 128.3,400.5 C130.3,400.3 128.3,400.6 130.0,400.3 C131.7,400.0 135.7,399.4 138.6,398.9 C141.4,398.3 144.3,397.5 147.1,397.0 C150.0,396.6 152.8,396.4 155.7,396.0 C158.5,395.7 161.4,395.4 164.2,394.9 C167.1,394.4 169.9,393.4 172.8,392.8 C175.6,392.2 178.5,391.7 181.3,391.3 C184.2,391.0 187.0,390.7 189.9,390.6 C192.7,390.5 195.6,390.5 198.4,390.6 C201.3,390.7 204.1,391.5 207.0,391.3 C209.8,391.2 212.7,390.3 215.5,389.9 C218.4,389.6 221.2,389.3 224.1,389.2 C226.9,389.1 229.8,389.2 232.7,389.2 C235.5,389.1 238.8,389.2 241.2,388.9 C243.6,388.6 244.1,387.7 246.9,387.5 C249.8,387.2 255.2,387.8 258.3,387.5 C261.4,387.2 263.1,386.4 265.4,385.6 C267.8,384.8 270.8,383.6 272.6,382.8 C274.3,382.0 269.4,384.1 276.0,380.9 C282.6,377.8 304.7,367.5 312.0,364.0 C319.4,360.5 317.1,361.4 319.9,359.9 C322.6,358.4 325.6,356.6 328.4,354.9 C331.3,353.2 334.1,351.6 337.0,349.9 C339.8,348.2 342.7,346.5 345.5,344.9 C348.4,343.3 351.2,341.7 354.1,340.2 C356.9,338.7 359.8,337.1 362.7,335.6 C365.5,334.2 368.4,332.8 371.2,331.4 C374.1,329.9 376.9,328.4 379.8,327.1 C382.6,325.8 386.6,324.2 388.3,323.5 C390.0,322.8 388.5,323.3 390.0,322.8 C391.5,322.2 394.8,321.0 397.1,320.2 C399.5,319.4 401.9,318.7 404.3,318.2 C406.6,317.7 409.0,317.7 411.4,317.4 C413.8,317.0 415.0,316.5 418.5,316.4 C422.1,316.3 428.0,316.7 432.8,316.8 C437.5,316.9 442.3,316.8 447.0,316.8 C451.8,316.8 457.5,316.7 461.3,316.8 C465.1,316.9 467.0,317.2 469.8,317.4 C472.7,317.5 475.1,317.6 478.4,317.8 C481.7,317.9 486.0,318.2 489.8,318.2 C493.6,318.2 497.6,317.9 501.2,317.8 C504.8,317.6 508.3,317.7 511.2,317.4 C514.0,317.0 516.8,315.9 518.3,315.6 C519.8,315.3 518.3,315.8 520.0,315.6 C521.7,315.3 525.7,314.5 528.6,314.2 C531.4,313.9 533.8,313.9 537.1,313.7 C540.4,313.6 545.2,313.4 548.5,313.2 C551.8,312.9 554.2,312.7 557.1,312.3 C559.9,311.9 562.8,311.2 565.6,310.6 C568.5,310.0 571.3,309.5 574.2,308.9 C577.0,308.3 579.9,307.8 582.7,307.0 C585.6,306.3 588.4,305.0 591.3,304.2 C594.1,303.4 597.0,302.6 599.8,302.3 C602.7,302.0 605.5,302.3 608.4,302.3 C611.2,302.3 614.6,302.7 616.9,302.3 C619.3,302.0 620.8,301.1 622.7,300.3 C624.6,299.5 626.5,298.3 628.4,297.5 C630.3,296.7 631.9,296.3 634.1,295.6 C636.2,295.0 638.8,294.1 641.2,293.5 C643.6,292.9 646.0,292.2 648.3,291.8 C650.6,291.3 652.5,291.1 655.0,290.7 C657.5,290.4 660.7,290.1 663.6,289.6 C666.4,289.1 669.3,288.6 672.1,287.9 C675.0,287.1 677.8,286.1 680.7,285.0 C683.5,284.0 686.4,282.7 689.2,281.5 C692.1,280.3 695.4,278.7 697.8,277.9 C700.1,277.1 701.1,276.7 703.5,276.5 C705.9,276.2 709.2,276.4 712.0,276.5 C714.9,276.5 717.7,276.9 720.6,276.8 C723.4,276.6 726.3,276.0 729.1,275.3 C732.0,274.7 734.8,273.8 737.7,272.9 C740.5,272.0 743.4,271.1 746.2,270.1 C749.1,269.0 751.9,267.8 754.8,266.8 C757.7,265.7 760.5,264.5 763.4,263.6 C766.2,262.8 769.1,262.3 771.9,261.5 C774.8,260.7 777.6,259.6 780.5,258.7 C783.3,257.7 786.8,256.5 789.0,255.8 C791.2,255.1 792.9,254.6 793.7,254.4" fill="none" stroke="#e2d600" stroke-width="0.74" stroke-linejoin="round"/>
<rect x="986" y="228" width="1" height="207" fill="#a2a6aa"/>
<rect x="2" y="434" width="985" height="1" fill="#b4b4b4"/>
<rect x="987" y="243.40" width="2.2" height="1" fill="#b4b4b4"/>
<text x="990" y="246.75" font-family="'Liberation Sans', sans-serif" font-size="8" font-weight="normal" fill="#d6d6d6" textLength="24" lengthAdjust="spacingAndGlyphs" text-anchor="start" >180.675</text>
<rect x="987" y="260.69" width="2.2" height="1" fill="#b4b4b4"/>
<text x="990" y="264.04" font-family="'Liberation Sans', sans-serif" font-size="8" font-weight="normal" fill="#d6d6d6" textLength="24" lengthAdjust="spacingAndGlyphs" text-anchor="start" >178.590</text>
<rect x="987" y="277.97" width="2.2" height="1" fill="#b4b4b4"/>
<text x="990" y="281.32" font-family="'Liberation Sans', sans-serif" font-size="8" font-weight="normal" fill="#d6d6d6" textLength="24" lengthAdjust="spacingAndGlyphs" text-anchor="start" >176.505</text>
<rect x="987" y="295.25" width="2.2" height="1" fill="#b4b4b4"/>
<text x="990" y="298.61" font-family="'Liberation Sans', sans-serif" font-size="8" font-weight="normal" fill="#d6d6d6" textLength="24" lengthAdjust="spacingAndGlyphs" text-anchor="start" >174.420</text>
<rect x="987" y="312.54" width="2.2" height="1" fill="#b4b4b4"/>
<text x="990" y="315.89" font-family="'Liberation Sans', sans-serif" font-size="8" font-weight="normal" fill="#d6d6d6" textLength="24" lengthAdjust="spacingAndGlyphs" text-anchor="start" >172.335</text>
<rect x="987" y="329.82" width="2.2" height="1" fill="#b4b4b4"/>
<text x="990" y="333.18" font-family="'Liberation Sans', sans-serif" font-size="8" font-weight="normal" fill="#d6d6d6" textLength="24" lengthAdjust="spacingAndGlyphs" text-anchor="start" >170.250</text>
<rect x="987" y="347.11" width="2.2" height="1" fill="#b4b4b4"/>
<text x="990" y="350.46" font-family="'Liberation Sans', sans-serif" font-size="8" font-weight="normal" fill="#d6d6d6" textLength="24" lengthAdjust="spacingAndGlyphs" text-anchor="start" >168.165</text>
<rect x="987" y="364.39" width="2.2" height="1" fill="#b4b4b4"/>
<text x="990" y="367.75" font-family="'Liberation Sans', sans-serif" font-size="8" font-weight="normal" fill="#d6d6d6" textLength="24" lengthAdjust="spacingAndGlyphs" text-anchor="start" >166.080</text>
<rect x="987" y="381.68" width="2.2" height="1" fill="#b4b4b4"/>
<text x="990" y="385.03" font-family="'Liberation Sans', sans-serif" font-size="8" font-weight="normal" fill="#d6d6d6" textLength="24" lengthAdjust="spacingAndGlyphs" text-anchor="start" >163.995</text>
<rect x="987" y="398.97" width="2.2" height="1" fill="#b4b4b4"/>
<text x="990" y="402.32" font-family="'Liberation Sans', sans-serif" font-size="8" font-weight="normal" fill="#d6d6d6" textLength="24" lengthAdjust="spacingAndGlyphs" text-anchor="start" >161.910</text>
<rect x="987" y="416.25" width="2.2" height="1" fill="#b4b4b4"/>
<text x="990" y="419.60" font-family="'Liberation Sans', sans-serif" font-size="8" font-weight="normal" fill="#d6d6d6" textLength="24" lengthAdjust="spacingAndGlyphs" text-anchor="start" >159.825</text>
<rect x="0.40" y="435" width="1" height="2.2" fill="#b4b4b4"/>
<text x="0.2" y="442.5" font-family="'Liberation Sans', sans-serif" font-size="8" font-weight="normal" fill="#d6d6d6" textLength="37.5" lengthAdjust="spacingAndGlyphs" text-anchor="start" >19 Mar 2025</text>
<rect x="69.40" y="435" width="1" height="2.2" fill="#b4b4b4"/>
<text x="69.2" y="442.5" font-family="'Liberation Sans', sans-serif" font-size="8" font-weight="normal" fill="#d6d6d6" textLength="32.3" lengthAdjust="spacingAndGlyphs" text-anchor="start" >9 Apr 2025</text>
<rect x="138.40" y="435" width="1" height="2.2" fill="#b4b4b4"/>
<text x="138.2" y="442.5" font-family="'Liberation Sans', sans-serif" font-size="8" font-weight="normal" fill="#d6d6d6" textLength="34.9" lengthAdjust="spacingAndGlyphs" text-anchor="start" >1 May 2025</text>
<rect x="207.40" y="435" width="1" height="2.2" fill="#b4b4b4"/>
<text x="207.2" y="442.5" font-family="'Liberation Sans', sans-serif" font-size="8" font-weight="normal" fill="#d6d6d6" textLength="38.6" lengthAdjust="spacingAndGlyphs" text-anchor="start" >23 May 2025</text>
<rect x="276.40" y="435" width="1" height="2.2" fill="#b4b4b4"/>
<text x="276.2" y="442.5" font-family="'Liberation Sans', sans-serif" font-size="8" font-weight="normal" fill="#d6d6d6" textLength="36.8" lengthAdjust="spacingAndGlyphs" text-anchor="start" >16 Jun 2025</text>
<rect x="345.40" y="435" width="1" height="2.2" fill="#b4b4b4"/>
<text x="345.2" y="442.5" font-family="'Liberation Sans', sans-serif" font-size="8" font-weight="normal" fill="#d6d6d6" textLength="30.8" lengthAdjust="spacingAndGlyphs" text-anchor="start" >8 Jul 2025</text>
<rect x="414.40" y="435" width="1" height="2.2" fill="#b4b4b4"/>
<text x="414.2" y="442.5" font-family="'Liberation Sans', sans-serif" font-size="8" font-weight="normal" fill="#d6d6d6" textLength="34.5" lengthAdjust="spacingAndGlyphs" text-anchor="start" >30 Jul 2025</text>
<rect x="483.40" y="435" width="1" height="2.2" fill="#b4b4b4"/>
<text x="483.2" y="442.5" font-family="'Liberation Sans', sans-serif" font-size="8" font-weight="normal" fill="#d6d6d6" textLength="37.5" lengthAdjust="spacingAndGlyphs" text-anchor="start" >21 Aug 2025</text>
<rect x="552.40" y="435" width="1" height="2.2" fill="#b4b4b4"/>
<text x="552.2" y="442.5" font-family="'Liberation Sans', sans-serif" font-size="8" font-weight="normal" fill="#d6d6d6" textLength="37.9" lengthAdjust="spacingAndGlyphs" text-anchor="start" >12 Sep 2025</text>
<rect x="621.40" y="435" width="1" height="2.2" fill="#b4b4b4"/>
<text x="621.2" y="442.5" font-family="'Liberation Sans', sans-serif" font-size="8" font-weight="normal" fill="#d6d6d6" textLength="32.7" lengthAdjust="spacingAndGlyphs" text-anchor="start" >6 Oct 2025</text>
<rect x="690.40" y="435" width="1" height="2.2" fill="#b4b4b4"/>
<text x="690.2" y="442.5" font-family="'Liberation Sans', sans-serif" font-size="8" font-weight="normal" fill="#d6d6d6" textLength="36.4" lengthAdjust="spacingAndGlyphs" text-anchor="start" >27 Oct 2025</text>
<rect x="759.40" y="435" width="1" height="2.2" fill="#b4b4b4"/>
<text x="759.2" y="442.5" font-family="'Liberation Sans', sans-serif" font-size="8" font-weight="normal" fill="#d6d6d6" textLength="37.9" lengthAdjust="spacingAndGlyphs" text-anchor="start" >18 Nov 2025</text>
<rect x="0" y="447.2" width="1024" height="1.8" fill="#e4e4e4"/>
<rect x="0" y="0" width="1.55" height="435" fill="#7c7c7c"/>
<rect x="4" y="3" width="5" height="7.4" fill="#e8403c"/>
<rect x="9" y="3" width="5" height="7.4" fill="#2f8fd6"/>
<rect x="4" y="5.1" width="10" height="0.7" fill="#ffffff" opacity="0.55"/>
<rect x="4" y="7.4" width="10" height="0.7" fill="#ffffff" opacity="0.55"/>
<rect x="6.3" y="3" width="0.6" height="7.4" fill="#ffffff" opacity="0.45"/>
<rect x="11.3" y="3" width="0.6" height="7.4" fill="#ffffff" opacity="0.45"/>
<rect x="18.6" y="3" width="5" height="7.4" fill="#e0403c"/>
<rect x="23.6" y="3" width="5" height="7.4" fill="#2f8fd6"/>
<rect x="21.6" y="3" width="4" height="3" fill="#000"/>
<rect x="22.4" y="3.2" width="2.4" height="1" fill="#e8e8e8"/>
<rect x="20.6" y="6.3" width="1.2" height="4.1" fill="#ffffff" opacity="0.7"/>
<rect x="25.4" y="5.5" width="1.2" height="4.9" fill="#ffffff" opacity="0.6"/>
<text y="10.1" font-family="'Liberation Sans', sans-serif" font-size="8.2" fill="#b2b2b2"><tspan x="32.6" textLength="24.8" lengthAdjust="spacingAndGlyphs">EURJPY,</tspan> <tspan x="59.5" textLength="23.3" lengthAdjust="spacingAndGlyphs">Weekly:</tspan> <tspan x="87.2" textLength="14.0" lengthAdjust="spacingAndGlyphs">Euro</tspan> <tspan x="103.2" textLength="6.2" lengthAdjust="spacingAndGlyphs">vs</tspan> <tspan x="110.8" textLength="27.5" lengthAdjust="spacingAndGlyphs">Japanese</tspan> <tspan x="141.2" textLength="10.8" lengthAdjust="spacingAndGlyphs">Yen</tspan></text>
<rect x="4" y="230" width="5" height="7.4" fill="#e8403c"/>
<rect x="9" y="230" width="5" height="7.4" fill="#2f8fd6"/>
<rect x="4" y="232.1" width="10" height="0.7" fill="#ffffff" opacity="0.55"/>
<rect x="4" y="234.4" width="10" height="0.7" fill="#ffffff" opacity="0.55"/>
<rect x="6.3" y="230" width="0.6" height="7.4" fill="#ffffff" opacity="0.45"/>
<rect x="11.3" y="230" width="0.6" height="7.4" fill="#ffffff" opacity="0.45"/>
<rect x="18.6" y="230" width="5" height="7.4" fill="#e0403c"/>
<rect x="23.6" y="230" width="5" height="7.4" fill="#2f8fd6"/>
<rect x="21.6" y="230" width="4" height="3" fill="#000"/>
<rect x="22.4" y="230.2" width="2.4" height="1" fill="#e8e8e8"/>
<rect x="20.6" y="233.3" width="1.2" height="4.1" fill="#ffffff" opacity="0.7"/>
<rect x="25.4" y="232.5" width="1.2" height="4.9" fill="#ffffff" opacity="0.6"/>
<text y="237.1" font-family="'Liberation Sans', sans-serif" font-size="8.2" fill="#b2b2b2"><tspan x="32.6" textLength="24.8" lengthAdjust="spacingAndGlyphs">EURJPY,</tspan> <tspan x="59.5" textLength="14.7" lengthAdjust="spacingAndGlyphs">Daily:</tspan> <tspan x="78.6" textLength="14.0" lengthAdjust="spacingAndGlyphs">Euro</tspan> <tspan x="94.3" textLength="6.1" lengthAdjust="spacingAndGlyphs">vs</tspan> <tspan x="102.1" textLength="27.5" lengthAdjust="spacingAndGlyphs">Japanese</tspan> <tspan x="132.5" textLength="10.9" lengthAdjust="spacingAndGlyphs">Yen</tspan></text>
<rect x="1" y="11" width="49" height="12.8" fill="#d6d6d6"/>
<rect x="1" y="11" width="49" height="0.8" fill="#f2f2f2"/>
<rect x="1" y="23" width="49" height="0.8" fill="#b8b8b8"/>
<rect x="40.4" y="11.6" width="0.7" height="11.6" fill="#a8a8a8"/>
<text x="2.6" y="20.1" font-family="'Liberation Mono', monospace" font-size="11.6" font-weight="bold" fill="#444444" textLength="36.8" lengthAdjust="spacingAndGlyphs" text-anchor="start" >1:19:03</text>
<path d="M43.1,18.8 L46.3,15.9 L46.3,21.7 Z" fill="#1c1c1c"/>
<rect x="46.3" y="15.9" width="0.6" height="5.8" fill="#6a7a9a"/>
<rect x="42.8" y="12.1" width="1.2" height="1" fill="#4a4a4a"/>
<rect x="44.6" y="12.1" width="1.2" height="1" fill="#4a4a4a"/>
<rect x="46.4" y="12.1" width="1.2" height="1" fill="#4a4a4a"/>
<rect x="6.5" y="27" width="6.6" height="6.6" fill="#c4c4c4"/>
<rect x="7.4" y="27.9" width="5" height="5" fill="#e9e9e9"/>
<text x="15.7" y="36.25" font-family="'Liberation Sans', sans-serif" font-size="9.1" font-weight="bold" fill="#ffff00" textLength="39.8" lengthAdjust="spacingAndGlyphs" text-anchor="start" stroke="#ffff00" stroke-width="0.45">MA1(20)</text>
<rect x="6.5" y="254" width="6.6" height="6.6" fill="#c4c4c4"/>
<rect x="7.4" y="254.9" width="5" height="5" fill="#e9e9e9"/>
<text x="15.7" y="263.25" font-family="'Liberation Sans', sans-serif" font-size="9.1" font-weight="bold" fill="#ffff00" textLength="39.8" lengthAdjust="spacingAndGlyphs" text-anchor="start" stroke="#ffff00" stroke-width="0.45">MA1(20)</text>
<rect x="1" y="70" width="11" height="11" fill="#d4d4d4"/>
<rect x="1" y="70" width="11" height="0.8" fill="#ececec"/>
<rect x="11.2" y="70" width="0.8" height="11" fill="#b0b0b0"/>
<path d="M3,74.6 L5,74.6 L6,72.2" fill="none" stroke="#555" stroke-width="0.8"/>
<rect x="7" y="72.4" width="3.6" height="0.9" fill="#555"/>
<rect x="6.6" y="74.2" width="4.4" height="0.8" fill="#3f78b8"/>
<rect x="7.2" y="75.4" width="3.6" height="3.6" rx="0.8" fill="#f0f0f0" stroke="#666" stroke-width="0.7"/>
<rect x="1" y="297" width="11" height="11" fill="#d4d4d4"/>
<rect x="1" y="297" width="11" height="0.8" fill="#ececec"/>
<rect x="11.2" y="297" width="0.8" height="11" fill="#b0b0b0"/>
<path d="M3,301.6 L5,301.6 L6,299.2" fill="none" stroke="#555" stroke-width="0.8"/>
<rect x="7" y="299.4" width="3.6" height="0.9" fill="#555"/>
<rect x="6.6" y="301.2" width="4.4" height="0.8" fill="#3f78b8"/>
<rect x="7.2" y="302.4" width="3.6" height="3.6" rx="0.8" fill="#f0f0f0" stroke="#666" stroke-width="0.7"/>
<path d="M9.4,176.7 L17.2,176.7 L20.1,183.2 L16.6,188.2 L15.3,193.1 L11.2,193.1 L9.7,188.2 L5.9,183.2 Z" fill="#ffffff"/>
<circle cx="12.85" cy="182.9" r="2.15" fill="#000"/>
<rect x="12.3" y="184" width="1.3" height="9.2" fill="#3a3a3a"/>
<rect x="1.7" y="200.8" width="22.7" height="23" fill="#f4fbfe"/>
<rect x="2.6" y="201.8" width="20.9" height="22" fill="#33bceb"/>
<path d="M5,212.2 Q13,221.4 21,212.2 Q13,219.6 5,212.2 Z" fill="#1d7f96" stroke="#15606e" stroke-width="0.5"/>
<rect x="10.2" y="214.2" width="5.6" height="0.7" fill="#1a6a7c"/>
<rect x="10.2" y="215.6" width="5.6" height="0.7" fill="#1a6a7c"/>
<path d="M8.3,195.4 L10.8,196.8" stroke="#26a69a" stroke-width="1.3" fill="none"/>
<path d="M17.6,172.8 L19.8,174.6" stroke="#26a69a" stroke-width="1.1" fill="none" opacity="0.8"/>
<path d="M790.6,0 L796.9,0 L793.75,3.1 Z" fill="#ffffff"/>
<path d="M791.6,227.6 L796,227.6 L793.8,230.3 Z" fill="#f0f0f0"/>
</svg>
</body></html>
